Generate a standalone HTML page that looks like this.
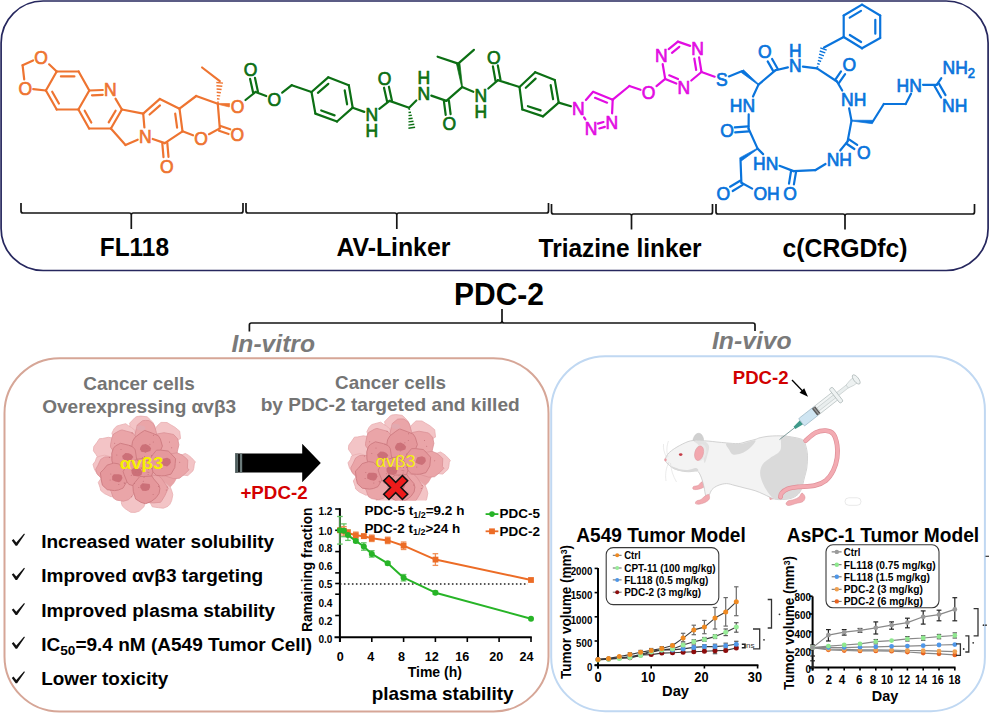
<!DOCTYPE html>
<html><head><meta charset="utf-8"><style>
html,body{margin:0;padding:0;background:#fff;width:1000px;height:713px;overflow:hidden}
svg{display:block}
text{font-family:"Liberation Sans", sans-serif}
</style></head><body>
<svg width="1000" height="713" viewBox="0 0 1000 713">
<rect x="1.1" y="1" width="987" height="269.5" rx="42" ry="42" fill="none" stroke="#26275e" stroke-width="1.7"/>
<rect x="4.5" y="358.2" width="544" height="353.3" rx="55" ry="55" fill="none" stroke="#d6a697" stroke-width="2"/>
<rect x="551.2" y="356.2" width="433.7" height="355" rx="54" ry="54" fill="none" stroke="#c0d8f2" stroke-width="2"/>
<path d="M21,203 L21,211 Q21,213 23,213 L129.3,213 Q131.3,213 131.3,215 L131.3,229 M131.3,215 Q131.3,213 133.3,213 L241,213 Q243,213 243,211 L243,203" fill="none" stroke="#151515" stroke-width="1.7"/>
<path d="M246,203 L246,211 Q246,213 248,213 L394.8,213 Q396.8,213 396.8,215 L396.8,229 M396.8,215 Q396.8,213 398.8,213 L546.5,213 Q548.5,213 548.5,211 L548.5,203" fill="none" stroke="#151515" stroke-width="1.7"/>
<path d="M551.5,204 L551.5,212 Q551.5,214 553.5,214 L629.5,214 Q631.5,214 631.5,216 L631.5,229.5 M631.5,216 Q631.5,214 633.5,214 L710.5,214 Q712.5,214 712.5,212 L712.5,204" fill="none" stroke="#151515" stroke-width="1.7"/>
<path d="M716,204 L716,212 Q716,214 718,214 L843,214 Q845,214 845,216 L845,229.5 M845,216 Q845,214 847,214 L972.5,214 Q974.5,214 974.5,212 L974.5,204" fill="none" stroke="#151515" stroke-width="1.7"/>
<text x="99.8" y="256.4" font-size="25.6" font-weight="bold" fill="#000" text-anchor="start" textLength="69.2" lengthAdjust="spacingAndGlyphs">FL118</text>
<text x="336.4" y="256.2" font-size="25.6" font-weight="bold" fill="#000" text-anchor="start" textLength="114" lengthAdjust="spacingAndGlyphs">AV-Linker</text>
<text x="538.6" y="257.4" font-size="25.6" font-weight="bold" fill="#000" text-anchor="start" textLength="163" lengthAdjust="spacingAndGlyphs">Triazine linker</text>
<text x="782.6" y="256.7" font-size="25.6" font-weight="bold" fill="#000" text-anchor="start" textLength="125" lengthAdjust="spacingAndGlyphs">c(CRGDfc)</text>
<text x="454" y="304.7" font-size="30.6" font-weight="bold" fill="#000" text-anchor="start" textLength="90" lengthAdjust="spacingAndGlyphs">PDC-2</text>
<path d="M249.4,331.5 L249.4,325 Q249.4,323 251.4,323 L500,323 Q502,323 502,321 L502,309 M502,321 Q502,323 504,323 L753,323 Q755,323 755,325 L755,331" fill="none" stroke="#151515" stroke-width="1.7"/>
<text x="231.5" y="351.5" font-size="24.5" font-weight="bold" fill="#7a7a7a" text-anchor="start" font-style="italic" textLength="83.5" lengthAdjust="spacingAndGlyphs">In-vitro</text>
<text x="712" y="348.9" font-size="24.5" font-weight="bold" fill="#7a7a7a" text-anchor="start" font-style="italic" textLength="79.6" lengthAdjust="spacingAndGlyphs">In-vivo</text>
<text x="139" y="390.4" font-size="18.6" font-weight="bold" fill="#747474" text-anchor="middle" textLength="111.4" lengthAdjust="spacingAndGlyphs">Cancer cells</text>
<text x="139.2" y="412.8" font-size="18.6" font-weight="bold" fill="#747474" text-anchor="middle" textLength="194" lengthAdjust="spacingAndGlyphs">Overexpressing αvβ3</text>
<text x="390.6" y="388.6" font-size="18.6" font-weight="bold" fill="#747474" text-anchor="middle" textLength="111" lengthAdjust="spacingAndGlyphs">Cancer cells</text>
<text x="390.2" y="411.4" font-size="18.6" font-weight="bold" fill="#747474" text-anchor="middle" textLength="259" lengthAdjust="spacingAndGlyphs">by PDC-2 targeted and killed</text>
<text x="240.4" y="498.6" font-size="18.6" font-weight="bold" fill="#d40000" text-anchor="start" textLength="67.2" lengthAdjust="spacingAndGlyphs">+PDC-2</text>
<path d="M235,453.4 L302.2,453.4 L302.2,443.8 L320.8,463 L302.2,482.2 L302.2,472.6 L235,472.6 Z" fill="#000"/>
<rect x="235" y="453.6" width="3.2" height="19" fill="#5f6e6e"/><rect x="236.3" y="453.6" width="0.8" height="19" fill="#4a5656"/><rect x="239.8" y="453.6" width="2.4" height="19" fill="#6b7b7b"/>
<path transform="translate(0,0.1)" d="M11.8,540.3 L13.5,538.9 L16.3,542.3 L24.1,533.5 L24.9,534.2 L17.1,545.6 L15.6,545.6 Z" fill="#111"/>
<text x="41.2" y="547.8" font-size="18.8" font-weight="bold" fill="#000" text-anchor="start" textLength="233" lengthAdjust="spacingAndGlyphs">Increased water solubility</text>
<path transform="translate(0,34.3)" d="M11.8,540.3 L13.5,538.9 L16.3,542.3 L24.1,533.5 L24.9,534.2 L17.1,545.6 L15.6,545.6 Z" fill="#111"/>
<text x="41.2" y="582" font-size="18.8" font-weight="bold" fill="#000" text-anchor="start" textLength="222" lengthAdjust="spacingAndGlyphs">Improved αvβ3 targeting</text>
<path transform="translate(0,69.5)" d="M11.8,540.3 L13.5,538.9 L16.3,542.3 L24.1,533.5 L24.9,534.2 L17.1,545.6 L15.6,545.6 Z" fill="#111"/>
<text x="41.2" y="617.2" font-size="18.8" font-weight="bold" fill="#000" text-anchor="start" textLength="234" lengthAdjust="spacingAndGlyphs">Improved plasma stability</text>
<path transform="translate(0,103.1)" d="M11.8,540.3 L13.5,538.9 L16.3,542.3 L24.1,533.5 L24.9,534.2 L17.1,545.6 L15.6,545.6 Z" fill="#111"/>
<text x="41.2" y="650.8" font-size="18.8" font-weight="bold" fill="#000" text-anchor="start" textLength="271" lengthAdjust="spacingAndGlyphs">IC<tspan font-size="13.5" dy="4">50</tspan><tspan dy="-4">=9.4 nM (A549 Tumor Cell)</tspan></text>
<path transform="translate(0,137.7)" d="M11.8,540.3 L13.5,538.9 L16.3,542.3 L24.1,533.5 L24.9,534.2 L17.1,545.6 L15.6,545.6 Z" fill="#111"/>
<text x="41.2" y="685.4" font-size="18.8" font-weight="bold" fill="#000" text-anchor="start" textLength="127" lengthAdjust="spacingAndGlyphs">Lower toxicity</text>
<g id="mol"><line x1="33.1" y1="60.5" x2="22.6" y2="65.3" stroke="#ee7431" stroke-width="2.2" stroke-linecap="round"/>
<line x1="22.6" y1="65.3" x2="24.2" y2="79.4" stroke="#ee7431" stroke-width="2.2" stroke-linecap="round"/>
<line x1="49.1" y1="64.3" x2="56.7" y2="71.5" stroke="#ee7431" stroke-width="2.2" stroke-linecap="round"/>
<line x1="33.2" y1="89.1" x2="45.9" y2="90.5" stroke="#ee7431" stroke-width="2.2" stroke-linecap="round"/>
<line x1="56.7" y1="71.5" x2="78.6" y2="71.5" stroke="#ee7431" stroke-width="2.2" stroke-linecap="round"/>
<line x1="60.9" y1="76.4" x2="74.4" y2="76.4" stroke="#ee7431" stroke-width="2.2" stroke-linecap="round"/>
<line x1="78.6" y1="71.5" x2="89.3" y2="90.5" stroke="#ee7431" stroke-width="2.2" stroke-linecap="round"/>
<line x1="89.3" y1="90.5" x2="78.4" y2="109.5" stroke="#ee7431" stroke-width="2.2" stroke-linecap="round"/>
<line x1="78.4" y1="109.5" x2="56.7" y2="109.5" stroke="#ee7431" stroke-width="2.2" stroke-linecap="round"/>
<line x1="56.7" y1="109.5" x2="45.9" y2="90.5" stroke="#ee7431" stroke-width="2.2" stroke-linecap="round"/>
<line x1="58.9" y1="103.5" x2="52.2" y2="91.7" stroke="#ee7431" stroke-width="2.2" stroke-linecap="round"/>
<line x1="45.9" y1="90.5" x2="56.7" y2="71.5" stroke="#ee7431" stroke-width="2.2" stroke-linecap="round"/>
<line x1="89.3" y1="90.5" x2="102.8" y2="90.0" stroke="#ee7431" stroke-width="2.2" stroke-linecap="round"/>
<line x1="92.0" y1="95.3" x2="102.7" y2="94.9" stroke="#ee7431" stroke-width="2.2" stroke-linecap="round"/>
<line x1="115.5" y1="98.6" x2="121.9" y2="109.5" stroke="#ee7431" stroke-width="2.2" stroke-linecap="round"/>
<line x1="121.9" y1="109.5" x2="110.9" y2="128.5" stroke="#ee7431" stroke-width="2.2" stroke-linecap="round"/>
<line x1="115.6" y1="110.7" x2="108.7" y2="122.4" stroke="#ee7431" stroke-width="2.2" stroke-linecap="round"/>
<line x1="110.9" y1="128.5" x2="89.1" y2="128.5" stroke="#ee7431" stroke-width="2.2" stroke-linecap="round"/>
<line x1="89.1" y1="128.5" x2="78.4" y2="109.5" stroke="#ee7431" stroke-width="2.2" stroke-linecap="round"/>
<line x1="91.3" y1="122.5" x2="84.7" y2="110.7" stroke="#ee7431" stroke-width="2.2" stroke-linecap="round"/>
<line x1="121.9" y1="109.5" x2="143.2" y2="113.6" stroke="#ee7431" stroke-width="2.2" stroke-linecap="round"/>
<line x1="143.2" y1="113.6" x2="144.4" y2="127.5" stroke="#ee7431" stroke-width="2.2" stroke-linecap="round"/>
<line x1="137.7" y1="139.7" x2="125.5" y2="145.0" stroke="#ee7431" stroke-width="2.2" stroke-linecap="round"/>
<line x1="125.5" y1="145.0" x2="110.9" y2="128.5" stroke="#ee7431" stroke-width="2.2" stroke-linecap="round"/>
<line x1="143.2" y1="113.6" x2="159.9" y2="98.9" stroke="#ee7431" stroke-width="2.2" stroke-linecap="round"/>
<line x1="149.6" y1="114.5" x2="160.0" y2="105.4" stroke="#ee7431" stroke-width="2.2" stroke-linecap="round"/>
<line x1="159.9" y1="98.9" x2="179.5" y2="108.7" stroke="#ee7431" stroke-width="2.2" stroke-linecap="round"/>
<line x1="179.5" y1="108.7" x2="182.5" y2="131.3" stroke="#ee7431" stroke-width="2.2" stroke-linecap="round"/>
<line x1="175.2" y1="113.6" x2="177.1" y2="127.7" stroke="#ee7431" stroke-width="2.2" stroke-linecap="round"/>
<line x1="182.5" y1="131.3" x2="164.8" y2="143.1" stroke="#ee7431" stroke-width="2.2" stroke-linecap="round"/>
<line x1="164.8" y1="143.1" x2="152.7" y2="139.0" stroke="#ee7431" stroke-width="2.2" stroke-linecap="round"/>
<line x1="162.3" y1="143.3" x2="163.5" y2="157.2" stroke="#ee7431" stroke-width="2.2" stroke-linecap="round"/>
<line x1="167.3" y1="142.9" x2="168.5" y2="156.8" stroke="#ee7431" stroke-width="2.2" stroke-linecap="round"/>
<line x1="179.5" y1="108.7" x2="196.2" y2="96.0" stroke="#ee7431" stroke-width="2.2" stroke-linecap="round"/>
<line x1="196.2" y1="96.0" x2="217.8" y2="103.8" stroke="#ee7431" stroke-width="2.2" stroke-linecap="round"/>
<line x1="217.8" y1="103.8" x2="219.8" y2="128.4" stroke="#ee7431" stroke-width="2.2" stroke-linecap="round"/>
<line x1="219.8" y1="128.4" x2="209.0" y2="134.2" stroke="#ee7431" stroke-width="2.2" stroke-linecap="round"/>
<line x1="193.0" y1="135.3" x2="182.5" y2="131.3" stroke="#ee7431" stroke-width="2.2" stroke-linecap="round"/>
<line x1="219.0" y1="130.8" x2="228.6" y2="134.0" stroke="#ee7431" stroke-width="2.2" stroke-linecap="round"/>
<line x1="220.6" y1="126.0" x2="230.2" y2="129.3" stroke="#ee7431" stroke-width="2.2" stroke-linecap="round"/>
<line x1="218.8" y1="102.3" x2="217.1" y2="102.1" stroke="#ee7431" stroke-width="1.4"/>
<line x1="219.5" y1="99.1" x2="217.0" y2="98.8" stroke="#ee7431" stroke-width="1.4"/>
<line x1="220.2" y1="95.9" x2="216.8" y2="95.6" stroke="#ee7431" stroke-width="1.4"/>
<line x1="220.9" y1="92.7" x2="216.7" y2="92.3" stroke="#ee7431" stroke-width="1.4"/>
<line x1="221.6" y1="89.5" x2="216.6" y2="89.0" stroke="#ee7431" stroke-width="1.4"/>
<line x1="222.3" y1="86.3" x2="216.4" y2="85.8" stroke="#ee7431" stroke-width="1.4"/>
<line x1="223.0" y1="83.1" x2="216.3" y2="82.5" stroke="#ee7431" stroke-width="1.4"/>
<line x1="219.8" y1="81.2" x2="202.1" y2="67.5" stroke="#ee7431" stroke-width="2.2" stroke-linecap="round"/>
<path d="M217.7,104.2 L229.3,107.0 L229.7,103.6 L217.9,103.4 Z" fill="#ee7431" stroke="#ee7431" stroke-width="0.7" stroke-linejoin="round"/>
<line x1="245.5" y1="100.0" x2="255.5" y2="92.0" stroke="#0c6f14" stroke-width="2.2" stroke-linecap="round"/>
<line x1="257.9" y1="91.5" x2="255.0" y2="77.9" stroke="#0c6f14" stroke-width="2.2" stroke-linecap="round"/>
<line x1="253.1" y1="92.5" x2="250.1" y2="78.9" stroke="#0c6f14" stroke-width="2.2" stroke-linecap="round"/>
<line x1="255.5" y1="92.0" x2="266.2" y2="96.0" stroke="#0c6f14" stroke-width="2.2" stroke-linecap="round"/>
<line x1="282.2" y1="92.7" x2="291.8" y2="85.2" stroke="#0c6f14" stroke-width="2.2" stroke-linecap="round"/>
<line x1="291.8" y1="85.2" x2="311.5" y2="92.0" stroke="#0c6f14" stroke-width="2.2" stroke-linecap="round"/>
<line x1="311.5" y1="92.0" x2="328.2" y2="77.3" stroke="#0c6f14" stroke-width="2.2" stroke-linecap="round"/>
<line x1="317.9" y1="92.9" x2="328.3" y2="83.8" stroke="#0c6f14" stroke-width="2.2" stroke-linecap="round"/>
<line x1="328.2" y1="77.3" x2="348.8" y2="85.2" stroke="#0c6f14" stroke-width="2.2" stroke-linecap="round"/>
<line x1="348.8" y1="85.2" x2="352.7" y2="107.7" stroke="#0c6f14" stroke-width="2.2" stroke-linecap="round"/>
<line x1="344.7" y1="90.3" x2="347.1" y2="104.3" stroke="#0c6f14" stroke-width="2.2" stroke-linecap="round"/>
<line x1="352.7" y1="107.7" x2="337.0" y2="121.5" stroke="#0c6f14" stroke-width="2.2" stroke-linecap="round"/>
<line x1="337.0" y1="121.5" x2="315.4" y2="113.6" stroke="#0c6f14" stroke-width="2.2" stroke-linecap="round"/>
<line x1="334.6" y1="115.4" x2="321.2" y2="110.5" stroke="#0c6f14" stroke-width="2.2" stroke-linecap="round"/>
<line x1="315.4" y1="113.6" x2="311.5" y2="92.0" stroke="#0c6f14" stroke-width="2.2" stroke-linecap="round"/>
<line x1="352.7" y1="107.7" x2="364.3" y2="111.9" stroke="#0c6f14" stroke-width="2.2" stroke-linecap="round"/>
<line x1="379.3" y1="108.8" x2="389.5" y2="100.9" stroke="#0c6f14" stroke-width="2.2" stroke-linecap="round"/>
<line x1="391.9" y1="100.4" x2="388.9" y2="86.7" stroke="#0c6f14" stroke-width="2.2" stroke-linecap="round"/>
<line x1="387.1" y1="101.4" x2="384.0" y2="87.7" stroke="#0c6f14" stroke-width="2.2" stroke-linecap="round"/>
<line x1="389.5" y1="100.9" x2="409.1" y2="107.7" stroke="#0c6f14" stroke-width="2.2" stroke-linecap="round"/>
<line x1="408.5" y1="109.4" x2="410.1" y2="109.1" stroke="#0c6f14" stroke-width="1.4"/>
<line x1="408.5" y1="112.5" x2="411.0" y2="112.2" stroke="#0c6f14" stroke-width="1.4"/>
<line x1="408.5" y1="115.6" x2="411.8" y2="115.2" stroke="#0c6f14" stroke-width="1.4"/>
<line x1="408.5" y1="118.8" x2="412.6" y2="118.2" stroke="#0c6f14" stroke-width="1.4"/>
<line x1="408.5" y1="121.9" x2="413.5" y2="121.2" stroke="#0c6f14" stroke-width="1.4"/>
<line x1="408.4" y1="125.1" x2="414.3" y2="124.3" stroke="#0c6f14" stroke-width="1.4"/>
<line x1="408.4" y1="128.2" x2="415.1" y2="127.3" stroke="#0c6f14" stroke-width="1.4"/>
<line x1="409.1" y1="107.7" x2="416.3" y2="100.5" stroke="#0c6f14" stroke-width="2.2" stroke-linecap="round"/>
<line x1="431.3" y1="95.6" x2="446.4" y2="100.9" stroke="#0c6f14" stroke-width="2.2" stroke-linecap="round"/>
<line x1="443.9" y1="101.2" x2="445.7" y2="114.8" stroke="#0c6f14" stroke-width="2.2" stroke-linecap="round"/>
<line x1="448.9" y1="100.6" x2="450.6" y2="114.2" stroke="#0c6f14" stroke-width="2.2" stroke-linecap="round"/>
<line x1="446.4" y1="100.9" x2="462.1" y2="87.1" stroke="#0c6f14" stroke-width="2.2" stroke-linecap="round"/>
<path d="M462.5,87.0 L459.9,63.3 L456.5,63.9 L461.7,87.2 Z" fill="#0c6f14" stroke="#0c6f14" stroke-width="0.7" stroke-linejoin="round"/>
<line x1="458.2" y1="63.6" x2="437.6" y2="56.7" stroke="#0c6f14" stroke-width="2.2" stroke-linecap="round"/>
<line x1="458.2" y1="63.6" x2="473.9" y2="49.8" stroke="#0c6f14" stroke-width="2.2" stroke-linecap="round"/>
<line x1="462.1" y1="87.1" x2="473.3" y2="91.8" stroke="#0c6f14" stroke-width="2.2" stroke-linecap="round"/>
<line x1="488.3" y1="88.5" x2="498.0" y2="80.2" stroke="#0c6f14" stroke-width="2.2" stroke-linecap="round"/>
<line x1="500.5" y1="79.7" x2="497.8" y2="65.4" stroke="#0c6f14" stroke-width="2.2" stroke-linecap="round"/>
<line x1="495.5" y1="80.7" x2="492.9" y2="66.4" stroke="#0c6f14" stroke-width="2.2" stroke-linecap="round"/>
<line x1="498.0" y1="80.2" x2="519.5" y2="87.0" stroke="#0c6f14" stroke-width="2.2" stroke-linecap="round"/>
<line x1="519.5" y1="87.0" x2="535.2" y2="72.2" stroke="#0c6f14" stroke-width="2.2" stroke-linecap="round"/>
<line x1="525.8" y1="87.8" x2="535.6" y2="78.6" stroke="#0c6f14" stroke-width="2.2" stroke-linecap="round"/>
<line x1="535.2" y1="72.2" x2="554.8" y2="80.1" stroke="#0c6f14" stroke-width="2.2" stroke-linecap="round"/>
<line x1="554.8" y1="80.1" x2="558.7" y2="102.6" stroke="#0c6f14" stroke-width="2.2" stroke-linecap="round"/>
<line x1="550.7" y1="85.2" x2="553.1" y2="99.2" stroke="#0c6f14" stroke-width="2.2" stroke-linecap="round"/>
<line x1="558.7" y1="102.6" x2="543.0" y2="116.4" stroke="#0c6f14" stroke-width="2.2" stroke-linecap="round"/>
<line x1="543.0" y1="116.4" x2="522.4" y2="109.5" stroke="#0c6f14" stroke-width="2.2" stroke-linecap="round"/>
<line x1="540.6" y1="110.4" x2="527.9" y2="106.2" stroke="#0c6f14" stroke-width="2.2" stroke-linecap="round"/>
<line x1="522.4" y1="109.5" x2="519.5" y2="87.0" stroke="#0c6f14" stroke-width="2.2" stroke-linecap="round"/>
<line x1="558.7" y1="102.6" x2="570.9" y2="106.3" stroke="#0c6f14" stroke-width="2.2" stroke-linecap="round"/>
<line x1="585.9" y1="100.0" x2="593.1" y2="91.8" stroke="#e20ce2" stroke-width="2.2" stroke-linecap="round"/>
<line x1="593.1" y1="91.8" x2="612.7" y2="99.7" stroke="#e20ce2" stroke-width="2.2" stroke-linecap="round"/>
<line x1="595.0" y1="97.8" x2="607.1" y2="102.7" stroke="#e20ce2" stroke-width="2.2" stroke-linecap="round"/>
<line x1="612.7" y1="99.7" x2="612.1" y2="113.4" stroke="#e20ce2" stroke-width="2.2" stroke-linecap="round"/>
<line x1="603.5" y1="122.0" x2="597.9" y2="123.6" stroke="#e20ce2" stroke-width="2.2" stroke-linecap="round"/>
<line x1="604.9" y1="126.9" x2="599.3" y2="128.5" stroke="#e20ce2" stroke-width="2.2" stroke-linecap="round"/>
<line x1="585.4" y1="119.3" x2="584.1" y2="117.4" stroke="#e20ce2" stroke-width="2.2" stroke-linecap="round"/>
<line x1="612.7" y1="99.7" x2="629.4" y2="86.0" stroke="#e20ce2" stroke-width="2.2" stroke-linecap="round"/>
<line x1="629.4" y1="86.0" x2="640.5" y2="89.8" stroke="#e20ce2" stroke-width="2.2" stroke-linecap="round"/>
<line x1="656.5" y1="86.1" x2="665.2" y2="78.9" stroke="#e20ce2" stroke-width="2.2" stroke-linecap="round"/>
<line x1="665.2" y1="78.9" x2="662.7" y2="64.2" stroke="#e20ce2" stroke-width="2.2" stroke-linecap="round"/>
<line x1="668.7" y1="49.1" x2="677.9" y2="41.6" stroke="#e20ce2" stroke-width="2.2" stroke-linecap="round"/>
<line x1="672.0" y1="52.8" x2="679.3" y2="46.8" stroke="#e20ce2" stroke-width="2.2" stroke-linecap="round"/>
<line x1="677.9" y1="41.6" x2="690.1" y2="45.9" stroke="#e20ce2" stroke-width="2.2" stroke-linecap="round"/>
<line x1="699.1" y1="57.4" x2="701.5" y2="72.0" stroke="#e20ce2" stroke-width="2.2" stroke-linecap="round"/>
<line x1="694.3" y1="58.5" x2="696.2" y2="70.0" stroke="#e20ce2" stroke-width="2.2" stroke-linecap="round"/>
<line x1="701.5" y1="72.0" x2="691.3" y2="80.5" stroke="#e20ce2" stroke-width="2.2" stroke-linecap="round"/>
<line x1="676.3" y1="83.6" x2="665.2" y2="78.9" stroke="#e20ce2" stroke-width="2.2" stroke-linecap="round"/>
<line x1="678.0" y1="79.0" x2="669.2" y2="75.3" stroke="#e20ce2" stroke-width="2.2" stroke-linecap="round"/>
<line x1="701.5" y1="72.0" x2="714.7" y2="76.7" stroke="#e20ce2" stroke-width="2.2" stroke-linecap="round"/>
<line x1="728.9" y1="76.4" x2="742.3" y2="71.1" stroke="#0a74dc" stroke-width="2.2" stroke-linecap="round"/>
<path d="M758.8,84.3 L743.4,69.8 L741.2,72.4 L758.2,84.9 Z" fill="#0a74dc" stroke="#0a74dc" stroke-width="0.7" stroke-linejoin="round"/>
<line x1="758.5" y1="84.6" x2="775.6" y2="70.2" stroke="#0a74dc" stroke-width="2.2" stroke-linecap="round"/>
<line x1="777.8" y1="69.0" x2="772.1" y2="59.0" stroke="#0a74dc" stroke-width="2.2" stroke-linecap="round"/>
<line x1="773.4" y1="71.4" x2="767.7" y2="61.4" stroke="#0a74dc" stroke-width="2.2" stroke-linecap="round"/>
<line x1="775.6" y1="70.2" x2="787.9" y2="67.4" stroke="#0a74dc" stroke-width="2.2" stroke-linecap="round"/>
<line x1="802.9" y1="66.6" x2="817.0" y2="68.4" stroke="#0a74dc" stroke-width="2.2" stroke-linecap="round"/>
<line x1="818.3" y1="67.2" x2="816.7" y2="66.6" stroke="#0a74dc" stroke-width="1.4"/>
<line x1="819.7" y1="64.3" x2="817.3" y2="63.5" stroke="#0a74dc" stroke-width="1.4"/>
<line x1="821.1" y1="61.5" x2="817.9" y2="60.4" stroke="#0a74dc" stroke-width="1.4"/>
<line x1="822.5" y1="58.6" x2="818.5" y2="57.3" stroke="#0a74dc" stroke-width="1.4"/>
<line x1="823.9" y1="55.8" x2="819.1" y2="54.2" stroke="#0a74dc" stroke-width="1.4"/>
<line x1="825.3" y1="52.9" x2="819.7" y2="51.0" stroke="#0a74dc" stroke-width="1.4"/>
<line x1="826.7" y1="50.1" x2="820.3" y2="47.9" stroke="#0a74dc" stroke-width="1.4"/>
<line x1="824.0" y1="47.5" x2="843.7" y2="37.0" stroke="#0a74dc" stroke-width="2.2" stroke-linecap="round"/>
<line x1="843.7" y1="37.0" x2="843.7" y2="15.5" stroke="#0a74dc" stroke-width="2.2" stroke-linecap="round"/>
<line x1="843.7" y1="15.5" x2="862.0" y2="4.6" stroke="#0a74dc" stroke-width="2.2" stroke-linecap="round"/>
<line x1="849.7" y1="17.6" x2="861.0" y2="10.9" stroke="#0a74dc" stroke-width="2.2" stroke-linecap="round"/>
<line x1="862.0" y1="4.6" x2="880.2" y2="15.5" stroke="#0a74dc" stroke-width="2.2" stroke-linecap="round"/>
<line x1="880.2" y1="15.5" x2="880.2" y2="38.0" stroke="#0a74dc" stroke-width="2.2" stroke-linecap="round"/>
<line x1="875.3" y1="19.8" x2="875.3" y2="33.7" stroke="#0a74dc" stroke-width="2.2" stroke-linecap="round"/>
<line x1="880.2" y1="38.0" x2="862.0" y2="48.3" stroke="#0a74dc" stroke-width="2.2" stroke-linecap="round"/>
<line x1="862.0" y1="48.3" x2="843.7" y2="37.0" stroke="#0a74dc" stroke-width="2.2" stroke-linecap="round"/>
<line x1="861.1" y1="42.0" x2="849.8" y2="35.0" stroke="#0a74dc" stroke-width="2.2" stroke-linecap="round"/>
<line x1="817.0" y1="68.4" x2="837.0" y2="81.5" stroke="#0a74dc" stroke-width="2.2" stroke-linecap="round"/>
<line x1="839.0" y1="82.9" x2="845.1" y2="74.2" stroke="#0a74dc" stroke-width="2.2" stroke-linecap="round"/>
<line x1="835.0" y1="80.1" x2="841.0" y2="71.4" stroke="#0a74dc" stroke-width="2.2" stroke-linecap="round"/>
<line x1="837.0" y1="81.5" x2="842.2" y2="90.5" stroke="#0a74dc" stroke-width="2.2" stroke-linecap="round"/>
<line x1="849.1" y1="108.3" x2="851.5" y2="120.6" stroke="#0a74dc" stroke-width="2.2" stroke-linecap="round"/>
<path d="M851.5,121.0 L872.4,123.7 L872.6,120.3 L851.5,120.2 Z" fill="#0a74dc" stroke="#0a74dc" stroke-width="0.7" stroke-linejoin="round"/>
<line x1="872.5" y1="122.0" x2="883.8" y2="104.0" stroke="#0a74dc" stroke-width="2.2" stroke-linecap="round"/>
<line x1="883.8" y1="104.0" x2="905.7" y2="104.0" stroke="#0a74dc" stroke-width="2.2" stroke-linecap="round"/>
<line x1="905.7" y1="104.0" x2="911.0" y2="93.7" stroke="#0a74dc" stroke-width="2.2" stroke-linecap="round"/>
<line x1="923.0" y1="84.8" x2="936.7" y2="84.8" stroke="#0a74dc" stroke-width="2.2" stroke-linecap="round"/>
<line x1="936.7" y1="84.8" x2="941.3" y2="78.1" stroke="#0a74dc" stroke-width="2.2" stroke-linecap="round"/>
<line x1="934.5" y1="86.0" x2="941.1" y2="97.5" stroke="#0a74dc" stroke-width="2.2" stroke-linecap="round"/>
<line x1="938.9" y1="83.6" x2="945.5" y2="95.1" stroke="#0a74dc" stroke-width="2.2" stroke-linecap="round"/>
<line x1="851.5" y1="120.6" x2="847.6" y2="141.4" stroke="#0a74dc" stroke-width="2.2" stroke-linecap="round"/>
<line x1="846.2" y1="143.5" x2="854.4" y2="149.0" stroke="#0a74dc" stroke-width="2.2" stroke-linecap="round"/>
<line x1="849.0" y1="139.3" x2="857.2" y2="144.8" stroke="#0a74dc" stroke-width="2.2" stroke-linecap="round"/>
<line x1="847.6" y1="141.4" x2="840.2" y2="150.5" stroke="#0a74dc" stroke-width="2.2" stroke-linecap="round"/>
<line x1="825.5" y1="164.0" x2="815.2" y2="170.2" stroke="#0a74dc" stroke-width="2.2" stroke-linecap="round"/>
<line x1="815.2" y1="170.2" x2="793.6" y2="171.1" stroke="#0a74dc" stroke-width="2.2" stroke-linecap="round"/>
<line x1="791.1" y1="170.7" x2="789.0" y2="183.6" stroke="#0a74dc" stroke-width="2.2" stroke-linecap="round"/>
<line x1="796.1" y1="171.5" x2="793.9" y2="184.4" stroke="#0a74dc" stroke-width="2.2" stroke-linecap="round"/>
<line x1="793.6" y1="171.1" x2="779.5" y2="165.8" stroke="#0a74dc" stroke-width="2.2" stroke-linecap="round"/>
<line x1="763.1" y1="154.1" x2="757.6" y2="148.6" stroke="#0a74dc" stroke-width="2.2" stroke-linecap="round"/>
<path d="M757.4,148.2 L739.6,157.9 L741.4,160.9 L757.8,149.0 Z" fill="#0a74dc" stroke="#0a74dc" stroke-width="0.7" stroke-linejoin="round"/>
<line x1="740.5" y1="159.4" x2="741.4" y2="182.8" stroke="#0a74dc" stroke-width="2.2" stroke-linecap="round"/>
<line x1="740.1" y1="180.7" x2="730.1" y2="186.7" stroke="#0a74dc" stroke-width="2.2" stroke-linecap="round"/>
<line x1="742.7" y1="184.9" x2="732.7" y2="191.0" stroke="#0a74dc" stroke-width="2.2" stroke-linecap="round"/>
<line x1="741.4" y1="182.8" x2="752.2" y2="188.6" stroke="#0a74dc" stroke-width="2.2" stroke-linecap="round"/>
<line x1="757.6" y1="148.6" x2="748.6" y2="128.8" stroke="#0a74dc" stroke-width="2.2" stroke-linecap="round"/>
<line x1="748.4" y1="126.3" x2="734.8" y2="127.4" stroke="#0a74dc" stroke-width="2.2" stroke-linecap="round"/>
<line x1="748.8" y1="131.3" x2="735.2" y2="132.4" stroke="#0a74dc" stroke-width="2.2" stroke-linecap="round"/>
<line x1="748.6" y1="128.8" x2="748.7" y2="114.3" stroke="#0a74dc" stroke-width="2.2" stroke-linecap="round"/>
<line x1="753.0" y1="96.5" x2="758.5" y2="84.6" stroke="#0a74dc" stroke-width="2.2" stroke-linecap="round"/>
<text transform="translate(41.1,63.5) scale(0.91,1)" font-size="19.240000000000002" fill="#ee7431" text-anchor="middle" stroke="#ee7431" stroke-width="0.75">O</text>
<text transform="translate(25.2,95.0) scale(0.91,1)" font-size="19.240000000000002" fill="#ee7431" text-anchor="middle" stroke="#ee7431" stroke-width="0.75">O</text>
<text transform="translate(110.3,96.4) scale(0.91,1)" font-size="19.240000000000002" fill="#ee7431" text-anchor="middle" stroke="#ee7431" stroke-width="0.75">N</text>
<text transform="translate(145.2,143.1) scale(0.91,1)" font-size="19.240000000000002" fill="#ee7431" text-anchor="middle" stroke="#ee7431" stroke-width="0.75">N</text>
<text transform="translate(166.8,172.6) scale(0.91,1)" font-size="19.240000000000002" fill="#ee7431" text-anchor="middle" stroke="#ee7431" stroke-width="0.75">O</text>
<text transform="translate(201.0,145.1) scale(0.91,1)" font-size="19.240000000000002" fill="#ee7431" text-anchor="middle" stroke="#ee7431" stroke-width="0.75">O</text>
<text transform="translate(237.4,141.1) scale(0.91,1)" font-size="19.240000000000002" fill="#ee7431" text-anchor="middle" stroke="#ee7431" stroke-width="0.75">O</text>
<text transform="translate(237.5,113.0) scale(0.91,1)" font-size="19.240000000000002" fill="#ee7431" text-anchor="middle" stroke="#ee7431" stroke-width="0.75">O</text>
<text transform="translate(250.6,76.2) scale(0.91,1)" font-size="19.240000000000002" fill="#0c6f14" text-anchor="middle" stroke="#0c6f14" stroke-width="0.75">O</text>
<text transform="translate(274.2,105.6) scale(0.91,1)" font-size="19.240000000000002" fill="#0c6f14" text-anchor="middle" stroke="#0c6f14" stroke-width="0.75">O</text>
<text transform="translate(371.8,121.3) scale(0.91,1)" font-size="19.240000000000002" fill="#0c6f14" text-anchor="middle" stroke="#0c6f14" stroke-width="0.75">N</text>
<text transform="translate(371.8,137.2) scale(0.91,1)" font-size="19.240000000000002" fill="#0c6f14" text-anchor="middle" stroke="#0c6f14" stroke-width="0.75">H</text>
<text transform="translate(384.5,85.0) scale(0.91,1)" font-size="19.240000000000002" fill="#0c6f14" text-anchor="middle" stroke="#0c6f14" stroke-width="0.75">O</text>
<text transform="translate(423.8,99.7) scale(0.91,1)" font-size="19.240000000000002" fill="#0c6f14" text-anchor="middle" stroke="#0c6f14" stroke-width="0.75">N</text>
<text transform="translate(423.8,83.8) scale(0.91,1)" font-size="19.240000000000002" fill="#0c6f14" text-anchor="middle" stroke="#0c6f14" stroke-width="0.75">H</text>
<text transform="translate(449.3,130.1) scale(0.91,1)" font-size="19.240000000000002" fill="#0c6f14" text-anchor="middle" stroke="#0c6f14" stroke-width="0.75">O</text>
<text transform="translate(480.8,101.7) scale(0.91,1)" font-size="19.240000000000002" fill="#0c6f14" text-anchor="middle" stroke="#0c6f14" stroke-width="0.75">N</text>
<text transform="translate(480.8,117.6) scale(0.91,1)" font-size="19.240000000000002" fill="#0c6f14" text-anchor="middle" stroke="#0c6f14" stroke-width="0.75">H</text>
<text transform="translate(493.7,63.7) scale(0.91,1)" font-size="19.240000000000002" fill="#0c6f14" text-anchor="middle" stroke="#0c6f14" stroke-width="0.75">O</text>
<text transform="translate(578.4,115.2) scale(0.91,1)" font-size="19.240000000000002" fill="#e20ce2" text-anchor="middle" stroke="#e20ce2" stroke-width="0.75">N</text>
<text transform="translate(611.7,129.0) scale(0.91,1)" font-size="19.240000000000002" fill="#e20ce2" text-anchor="middle" stroke="#e20ce2" stroke-width="0.75">N</text>
<text transform="translate(591.1,134.9) scale(0.91,1)" font-size="19.240000000000002" fill="#e20ce2" text-anchor="middle" stroke="#e20ce2" stroke-width="0.75">N</text>
<text transform="translate(648.5,99.3) scale(0.91,1)" font-size="19.240000000000002" fill="#e20ce2" text-anchor="middle" stroke="#e20ce2" stroke-width="0.75">O</text>
<text transform="translate(661.2,62.0) scale(0.91,1)" font-size="19.240000000000002" fill="#e20ce2" text-anchor="middle" stroke="#e20ce2" stroke-width="0.75">N</text>
<text transform="translate(697.6,55.2) scale(0.91,1)" font-size="19.240000000000002" fill="#e20ce2" text-anchor="middle" stroke="#e20ce2" stroke-width="0.75">N</text>
<text transform="translate(683.8,93.5) scale(0.91,1)" font-size="19.240000000000002" fill="#e20ce2" text-anchor="middle" stroke="#e20ce2" stroke-width="0.75">N</text>
<text transform="translate(721.8,85.9) scale(0.91,1)" font-size="19.240000000000002" fill="#0a74dc" text-anchor="middle" stroke="#0a74dc" stroke-width="0.75">S</text>
<text transform="translate(764.8,58.0) scale(0.91,1)" font-size="19.240000000000002" fill="#0a74dc" text-anchor="middle" stroke="#0a74dc" stroke-width="0.75">O</text>
<text transform="translate(795.4,72.4) scale(0.91,1)" font-size="19.240000000000002" fill="#0a74dc" text-anchor="middle" stroke="#0a74dc" stroke-width="0.75">N</text>
<text transform="translate(795.4,56.5) scale(0.91,1)" font-size="19.240000000000002" fill="#0a74dc" text-anchor="middle" stroke="#0a74dc" stroke-width="0.75">H</text>
<text transform="translate(849.3,70.6) scale(0.91,1)" font-size="19.240000000000002" fill="#0a74dc" text-anchor="middle" stroke="#0a74dc" stroke-width="0.75">O</text>
<text transform="translate(841.1,106.1) scale(0.91,1)" font-size="19.240000000000002" fill="#0a74dc" text-anchor="start" stroke="#0a74dc" stroke-width="0.75">NH</text>
<text transform="translate(921.8,91.5) scale(0.91,1)" font-size="19.240000000000002" fill="#0a74dc" text-anchor="end" stroke="#0a74dc" stroke-width="0.75">HN</text>
<text transform="translate(942.5,73.9) scale(0.91,1)" font-size="19.240000000000002" fill="#0a74dc" text-anchor="start" stroke="#0a74dc" stroke-width="0.75">NH</text>
<text transform="translate(967.8,78.4) scale(0.91,1)" font-size="14.2376" fill="#0a74dc" text-anchor="start" stroke="#0a74dc" stroke-width="0.75">2</text>
<text transform="translate(942.1,111.9) scale(0.91,1)" font-size="19.240000000000002" fill="#0a74dc" text-anchor="start" stroke="#0a74dc" stroke-width="0.75">NH</text>
<text transform="translate(863.8,158.9) scale(0.91,1)" font-size="19.240000000000002" fill="#0a74dc" text-anchor="middle" stroke="#0a74dc" stroke-width="0.75">O</text>
<text transform="translate(826.7,166.1) scale(0.91,1)" font-size="19.240000000000002" fill="#0a74dc" text-anchor="start" stroke="#0a74dc" stroke-width="0.75">NH</text>
<text transform="translate(790.0,199.6) scale(0.91,1)" font-size="19.240000000000002" fill="#0a74dc" text-anchor="middle" stroke="#0a74dc" stroke-width="0.75">O</text>
<text transform="translate(778.3,169.7) scale(0.91,1)" font-size="19.240000000000002" fill="#0a74dc" text-anchor="end" stroke="#0a74dc" stroke-width="0.75">HN</text>
<text transform="translate(723.4,200.3) scale(0.91,1)" font-size="19.240000000000002" fill="#0a74dc" text-anchor="middle" stroke="#0a74dc" stroke-width="0.75">O</text>
<text transform="translate(753.4,199.6) scale(0.91,1)" font-size="19.240000000000002" fill="#0a74dc" text-anchor="start" stroke="#0a74dc" stroke-width="0.75">OH</text>
<text transform="translate(727.0,137.3) scale(0.91,1)" font-size="19.240000000000002" fill="#0a74dc" text-anchor="middle" stroke="#0a74dc" stroke-width="0.75">O</text>
<text transform="translate(755.1,112.1) scale(0.91,1)" font-size="19.240000000000002" fill="#0a74dc" text-anchor="end" stroke="#0a74dc" stroke-width="0.75">HN</text></g>
<g id="charts"><line x1="339.9" y1="508.2" x2="339.9" y2="642.0" stroke="#000" stroke-width="2"/>
<line x1="334.5" y1="637.2" x2="531.8" y2="637.2" stroke="#000" stroke-width="2"/>
<line x1="335.2" y1="509.0" x2="339.9" y2="509.0" stroke="#000" stroke-width="1.6"/>
<line x1="335.2" y1="530.3" x2="339.9" y2="530.3" stroke="#000" stroke-width="1.6"/>
<line x1="335.2" y1="551.6" x2="339.9" y2="551.6" stroke="#000" stroke-width="1.6"/>
<line x1="335.2" y1="572.9" x2="339.9" y2="572.9" stroke="#000" stroke-width="1.6"/>
<line x1="335.2" y1="583.5" x2="339.9" y2="583.5" stroke="#000" stroke-width="1.6"/>
<line x1="335.2" y1="594.2" x2="339.9" y2="594.2" stroke="#000" stroke-width="1.6"/>
<line x1="335.2" y1="615.5" x2="339.9" y2="615.5" stroke="#000" stroke-width="1.6"/>
<line x1="339.9" y1="637.2" x2="339.9" y2="642.0" stroke="#000" stroke-width="1.6"/>
<text x="340.2" y="661.0" font-size="12.6" font-weight="bold" fill="#000" text-anchor="middle">0</text>
<line x1="371.8" y1="637.2" x2="371.8" y2="642.0" stroke="#000" stroke-width="1.6"/>
<text x="370.8" y="661.0" font-size="12.6" font-weight="bold" fill="#000" text-anchor="middle">4</text>
<line x1="403.6" y1="637.2" x2="403.6" y2="642.0" stroke="#000" stroke-width="1.6"/>
<text x="401.4" y="661.0" font-size="12.6" font-weight="bold" fill="#000" text-anchor="middle">8</text>
<line x1="435.4" y1="637.2" x2="435.4" y2="642.0" stroke="#000" stroke-width="1.6"/>
<text x="431.8" y="661.0" font-size="12.6" font-weight="bold" fill="#000" text-anchor="middle">12</text>
<line x1="467.3" y1="637.2" x2="467.3" y2="642.0" stroke="#000" stroke-width="1.6"/>
<text x="462.3" y="661.0" font-size="12.6" font-weight="bold" fill="#000" text-anchor="middle">16</text>
<line x1="499.1" y1="637.2" x2="499.1" y2="642.0" stroke="#000" stroke-width="1.6"/>
<text x="496.2" y="661.0" font-size="12.6" font-weight="bold" fill="#000" text-anchor="middle">20</text>
<line x1="531.0" y1="637.2" x2="531.0" y2="642.0" stroke="#000" stroke-width="1.6"/>
<text x="526.6" y="661.0" font-size="12.6" font-weight="bold" fill="#000" text-anchor="middle">24</text>
<text x="332.4" y="515.3" font-size="10.6" font-weight="bold" fill="#000" text-anchor="end" textLength="14" lengthAdjust="spacingAndGlyphs">1.2</text>
<text x="332.4" y="534.6" font-size="10.6" font-weight="bold" fill="#000" text-anchor="end" textLength="14" lengthAdjust="spacingAndGlyphs">1.0</text>
<text x="332.4" y="552.2" font-size="10.6" font-weight="bold" fill="#000" text-anchor="end" textLength="14" lengthAdjust="spacingAndGlyphs">0.8</text>
<text x="332.4" y="570.2" font-size="10.6" font-weight="bold" fill="#000" text-anchor="end" textLength="14" lengthAdjust="spacingAndGlyphs">0.6</text>
<text x="332.4" y="587.6" font-size="10.6" font-weight="bold" fill="#000" text-anchor="end" textLength="14" lengthAdjust="spacingAndGlyphs">0.5</text>
<text x="332.4" y="607.0" font-size="10.6" font-weight="bold" fill="#000" text-anchor="end" textLength="14" lengthAdjust="spacingAndGlyphs">0.4</text>
<text x="332.4" y="624.6" font-size="10.6" font-weight="bold" fill="#000" text-anchor="end" textLength="14" lengthAdjust="spacingAndGlyphs">0.2</text>
<text x="332.4" y="643.4" font-size="10.6" font-weight="bold" fill="#000" text-anchor="end" textLength="14" lengthAdjust="spacingAndGlyphs">0.0</text>
<line x1="339.9" y1="584.0" x2="528.0" y2="584.0" stroke="#222" stroke-width="1.3" stroke-dasharray="1.6 2.4"/>
<line x1="339.9" y1="516.5" x2="339.9" y2="544.1" stroke="#62c462" stroke-width="1.3"/>
<line x1="337.1" y1="516.5" x2="342.7" y2="516.5" stroke="#62c462" stroke-width="1.3"/>
<line x1="337.1" y1="544.1" x2="342.7" y2="544.1" stroke="#62c462" stroke-width="1.3"/>
<line x1="343.9" y1="523.9" x2="343.9" y2="536.7" stroke="#62c462" stroke-width="1.3"/>
<line x1="341.1" y1="523.9" x2="346.7" y2="523.9" stroke="#62c462" stroke-width="1.3"/>
<line x1="341.1" y1="536.7" x2="346.7" y2="536.7" stroke="#62c462" stroke-width="1.3"/>
<line x1="347.9" y1="529.8" x2="347.9" y2="540.4" stroke="#62c462" stroke-width="1.3"/>
<line x1="345.1" y1="529.8" x2="350.7" y2="529.8" stroke="#62c462" stroke-width="1.3"/>
<line x1="345.1" y1="540.4" x2="350.7" y2="540.4" stroke="#62c462" stroke-width="1.3"/>
<line x1="355.8" y1="539.4" x2="355.8" y2="542.5" stroke="#62c462" stroke-width="1.3"/>
<line x1="353.0" y1="539.4" x2="358.6" y2="539.4" stroke="#62c462" stroke-width="1.3"/>
<line x1="353.0" y1="542.5" x2="358.6" y2="542.5" stroke="#62c462" stroke-width="1.3"/>
<line x1="363.8" y1="542.8" x2="363.8" y2="550.2" stroke="#62c462" stroke-width="1.3"/>
<line x1="361.0" y1="542.8" x2="366.6" y2="542.8" stroke="#62c462" stroke-width="1.3"/>
<line x1="361.0" y1="550.2" x2="366.6" y2="550.2" stroke="#62c462" stroke-width="1.3"/>
<line x1="371.8" y1="550.7" x2="371.8" y2="557.1" stroke="#62c462" stroke-width="1.3"/>
<line x1="368.9" y1="550.7" x2="374.6" y2="550.7" stroke="#62c462" stroke-width="1.3"/>
<line x1="368.9" y1="557.1" x2="374.6" y2="557.1" stroke="#62c462" stroke-width="1.3"/>
<line x1="387.7" y1="561.7" x2="387.7" y2="564.9" stroke="#62c462" stroke-width="1.3"/>
<line x1="384.9" y1="561.7" x2="390.5" y2="561.7" stroke="#62c462" stroke-width="1.3"/>
<line x1="384.9" y1="564.9" x2="390.5" y2="564.9" stroke="#62c462" stroke-width="1.3"/>
<line x1="403.6" y1="574.5" x2="403.6" y2="580.9" stroke="#62c462" stroke-width="1.3"/>
<line x1="400.8" y1="574.5" x2="406.4" y2="574.5" stroke="#62c462" stroke-width="1.3"/>
<line x1="400.8" y1="580.9" x2="406.4" y2="580.9" stroke="#62c462" stroke-width="1.3"/>
<line x1="435.4" y1="591.1" x2="435.4" y2="594.3" stroke="#62c462" stroke-width="1.3"/>
<line x1="432.6" y1="591.1" x2="438.2" y2="591.1" stroke="#62c462" stroke-width="1.3"/>
<line x1="432.6" y1="594.3" x2="438.2" y2="594.3" stroke="#62c462" stroke-width="1.3"/>
<line x1="343.9" y1="526.6" x2="343.9" y2="535.1" stroke="#f08f55" stroke-width="1.3"/>
<line x1="341.1" y1="526.6" x2="346.7" y2="526.6" stroke="#f08f55" stroke-width="1.3"/>
<line x1="341.1" y1="535.1" x2="346.7" y2="535.1" stroke="#f08f55" stroke-width="1.3"/>
<line x1="347.9" y1="529.8" x2="347.9" y2="536.2" stroke="#f08f55" stroke-width="1.3"/>
<line x1="345.1" y1="529.8" x2="350.7" y2="529.8" stroke="#f08f55" stroke-width="1.3"/>
<line x1="345.1" y1="536.2" x2="350.7" y2="536.2" stroke="#f08f55" stroke-width="1.3"/>
<line x1="355.8" y1="532.1" x2="355.8" y2="538.5" stroke="#f08f55" stroke-width="1.3"/>
<line x1="353.0" y1="532.1" x2="358.6" y2="532.1" stroke="#f08f55" stroke-width="1.3"/>
<line x1="353.0" y1="538.5" x2="358.6" y2="538.5" stroke="#f08f55" stroke-width="1.3"/>
<line x1="363.8" y1="534.0" x2="363.8" y2="538.3" stroke="#f08f55" stroke-width="1.3"/>
<line x1="361.0" y1="534.0" x2="366.6" y2="534.0" stroke="#f08f55" stroke-width="1.3"/>
<line x1="361.0" y1="538.3" x2="366.6" y2="538.3" stroke="#f08f55" stroke-width="1.3"/>
<line x1="371.8" y1="535.1" x2="371.8" y2="541.5" stroke="#f08f55" stroke-width="1.3"/>
<line x1="368.9" y1="535.1" x2="374.6" y2="535.1" stroke="#f08f55" stroke-width="1.3"/>
<line x1="368.9" y1="541.5" x2="374.6" y2="541.5" stroke="#f08f55" stroke-width="1.3"/>
<line x1="387.7" y1="537.2" x2="387.7" y2="543.6" stroke="#f08f55" stroke-width="1.3"/>
<line x1="384.9" y1="537.2" x2="390.5" y2="537.2" stroke="#f08f55" stroke-width="1.3"/>
<line x1="384.9" y1="543.6" x2="390.5" y2="543.6" stroke="#f08f55" stroke-width="1.3"/>
<line x1="403.6" y1="542.0" x2="403.6" y2="549.5" stroke="#f08f55" stroke-width="1.3"/>
<line x1="400.8" y1="542.0" x2="406.4" y2="542.0" stroke="#f08f55" stroke-width="1.3"/>
<line x1="400.8" y1="549.5" x2="406.4" y2="549.5" stroke="#f08f55" stroke-width="1.3"/>
<line x1="435.4" y1="553.7" x2="435.4" y2="565.4" stroke="#f08f55" stroke-width="1.3"/>
<line x1="432.6" y1="553.7" x2="438.2" y2="553.7" stroke="#f08f55" stroke-width="1.3"/>
<line x1="432.6" y1="565.4" x2="438.2" y2="565.4" stroke="#f08f55" stroke-width="1.3"/>
<polyline points="339.9,530.3 343.9,530.8 347.9,533.0 355.8,535.3 363.8,536.2 371.8,538.3 387.7,540.4 403.6,545.7 435.4,559.6 531.0,580.0" fill="none" stroke="#ec6c26" stroke-width="2" stroke-linejoin="round"/>
<polyline points="339.9,530.3 343.9,530.8 347.9,535.1 355.8,540.9 363.8,546.5 371.8,553.9 387.7,563.3 403.6,577.7 435.4,592.7 531.0,618.8" fill="none" stroke="#27b427" stroke-width="2" stroke-linejoin="round"/>
<rect x="337.0" y="527.4" width="5.8" height="5.8" fill="#ec6c26"/>
<rect x="341.0" y="527.9" width="5.8" height="5.8" fill="#ec6c26"/>
<rect x="345.0" y="530.1" width="5.8" height="5.8" fill="#ec6c26"/>
<rect x="352.9" y="532.4" width="5.8" height="5.8" fill="#ec6c26"/>
<rect x="360.9" y="533.3" width="5.8" height="5.8" fill="#ec6c26"/>
<rect x="368.9" y="535.4" width="5.8" height="5.8" fill="#ec6c26"/>
<rect x="384.8" y="537.5" width="5.8" height="5.8" fill="#ec6c26"/>
<rect x="400.7" y="542.8" width="5.8" height="5.8" fill="#ec6c26"/>
<rect x="432.6" y="556.7" width="5.8" height="5.8" fill="#ec6c26"/>
<rect x="528.1" y="577.1" width="5.8" height="5.8" fill="#ec6c26"/>
<circle cx="339.9" cy="530.3" r="3.0" fill="#27b427"/>
<circle cx="343.9" cy="530.8" r="3.0" fill="#27b427"/>
<circle cx="347.9" cy="535.1" r="3.0" fill="#27b427"/>
<circle cx="355.8" cy="540.9" r="3.0" fill="#27b427"/>
<circle cx="363.8" cy="546.5" r="3.0" fill="#27b427"/>
<circle cx="371.8" cy="553.9" r="3.0" fill="#27b427"/>
<circle cx="387.7" cy="563.3" r="3.0" fill="#27b427"/>
<circle cx="403.6" cy="577.7" r="3.0" fill="#27b427"/>
<circle cx="435.4" cy="592.7" r="3.0" fill="#27b427"/>
<circle cx="531.0" cy="618.8" r="3.0" fill="#27b427"/>
<line x1="485.6" y1="514.1" x2="498.4" y2="514.1" stroke="#27b427" stroke-width="1.8"/>
<circle cx="492.0" cy="514.1" r="2.8" fill="#27b427"/>
<text x="499.6" y="518.4" font-size="13.6" font-weight="bold" fill="#000" text-anchor="start" textLength="40.4" lengthAdjust="spacingAndGlyphs">PDC-5</text>
<line x1="485.6" y1="531.3" x2="498.4" y2="531.3" stroke="#ec6c26" stroke-width="1.8"/>
<rect x="489.1" y="528.4" width="5.8" height="5.8" fill="#ec6c26"/>
<text x="499.6" y="536.3" font-size="13.6" font-weight="bold" fill="#000" text-anchor="start" textLength="40.4" lengthAdjust="spacingAndGlyphs">PDC-2</text>
<text x="364.4" y="515" font-size="12.8" font-weight="bold" fill="#000" textLength="100" lengthAdjust="spacingAndGlyphs">PDC-5 t<tspan font-size="8.5" dy="2.5">1/2</tspan><tspan dy="-2.5">=9.2 h</tspan></text>
<text x="364.4" y="532.6" font-size="12.8" font-weight="bold" fill="#000" textLength="95.8" lengthAdjust="spacingAndGlyphs">PDC-2 t<tspan font-size="8.5" dy="2.5">1/2</tspan><tspan dy="-2.5">&gt;24 h</tspan></text>
<text x="434.8" y="676.8" font-size="15" font-weight="bold" fill="#000" text-anchor="middle" textLength="54.2" lengthAdjust="spacingAndGlyphs">Time (h)</text>
<text x="442.6" y="699.5" font-size="17.8" font-weight="bold" fill="#000" text-anchor="middle" textLength="141.9" lengthAdjust="spacingAndGlyphs">plasma stability</text>
<text transform="translate(311.6,632) rotate(-90)" x="0" y="0" font-size="14.6" font-weight="bold" fill="#000" textLength="124.5" lengthAdjust="spacingAndGlyphs">Ramaining fraction</text>
<text x="661.0" y="542.0" font-size="19.6" font-weight="bold" fill="#000" text-anchor="middle" textLength="169.5" lengthAdjust="spacingAndGlyphs">A549 Tumor Model</text>
<rect x="606.2" y="547.6" width="112.6" height="57" rx="7" fill="#fff" stroke="#3a3a3a" stroke-width="1.1"/>
<line x1="612.8" y1="555.3" x2="621.6" y2="555.3" stroke="#666" stroke-width="1"/>
<circle cx="617.2" cy="555.3" r="2.0" fill="#ef8a22"/>
<text x="624.2" y="559.1" font-size="10.6" font-weight="bold" fill="#000" text-anchor="start" textLength="16.4" lengthAdjust="spacingAndGlyphs">Ctrl</text>
<line x1="612.8" y1="568.0" x2="621.6" y2="568.0" stroke="#666" stroke-width="1"/>
<circle cx="617.2" cy="568.0" r="2.0" fill="#98ec98"/>
<text x="624.2" y="571.8" font-size="10.6" font-weight="bold" fill="#000" text-anchor="start" textLength="91.4" lengthAdjust="spacingAndGlyphs">CPT-11 (100 mg/kg)</text>
<line x1="612.8" y1="579.9" x2="621.6" y2="579.9" stroke="#666" stroke-width="1"/>
<circle cx="617.2" cy="579.9" r="2.0" fill="#4f97e8"/>
<text x="624.2" y="583.7" font-size="10.6" font-weight="bold" fill="#000" text-anchor="start" textLength="84.2" lengthAdjust="spacingAndGlyphs">FL118 (0.5 mg/kg)</text>
<line x1="612.8" y1="592.2" x2="621.6" y2="592.2" stroke="#666" stroke-width="1"/>
<circle cx="617.2" cy="592.2" r="2.0" fill="#8c0c0c"/>
<text x="624.2" y="596.0" font-size="10.6" font-weight="bold" fill="#000" text-anchor="start" textLength="77" lengthAdjust="spacingAndGlyphs">PDC-2 (3 mg/kg)</text>
<line x1="598.0" y1="568.0" x2="598.0" y2="668.5" stroke="#000" stroke-width="2"/>
<line x1="594.6" y1="665.2" x2="758.4" y2="665.2" stroke="#000" stroke-width="2"/>
<line x1="594.6" y1="665.2" x2="598.0" y2="665.2" stroke="#000" stroke-width="1.6"/>
<line x1="594.6" y1="641.0" x2="598.0" y2="641.0" stroke="#000" stroke-width="1.6"/>
<line x1="594.6" y1="616.8" x2="598.0" y2="616.8" stroke="#000" stroke-width="1.6"/>
<line x1="594.6" y1="592.6" x2="598.0" y2="592.6" stroke="#000" stroke-width="1.6"/>
<line x1="594.6" y1="568.4" x2="598.0" y2="568.4" stroke="#000" stroke-width="1.6"/>
<text x="592.3" y="574.5" font-size="10.6" font-weight="bold" fill="#000" text-anchor="end" textLength="21.6" lengthAdjust="spacingAndGlyphs">2000</text>
<text x="592.3" y="599.0" font-size="10.6" font-weight="bold" fill="#000" text-anchor="end" textLength="21.6" lengthAdjust="spacingAndGlyphs">1500</text>
<text x="592.3" y="623.6" font-size="10.6" font-weight="bold" fill="#000" text-anchor="end" textLength="21.6" lengthAdjust="spacingAndGlyphs">1000</text>
<text x="592.3" y="647.4" font-size="10.6" font-weight="bold" fill="#000" text-anchor="end" textLength="16.2" lengthAdjust="spacingAndGlyphs">500</text>
<text x="592.3" y="670.8" font-size="10.6" font-weight="bold" fill="#000" text-anchor="end" textLength="5.4" lengthAdjust="spacingAndGlyphs">0</text>
<line x1="598.0" y1="665.2" x2="598.0" y2="668.5" stroke="#000" stroke-width="1.6"/>
<text x="598.2" y="682.4" font-size="14.8" font-weight="bold" fill="#000" text-anchor="middle" textLength="7.2" lengthAdjust="spacingAndGlyphs">0</text>
<line x1="651.2" y1="665.2" x2="651.2" y2="668.5" stroke="#000" stroke-width="1.6"/>
<text x="648.2" y="682.4" font-size="14.8" font-weight="bold" fill="#000" text-anchor="middle" textLength="14.2" lengthAdjust="spacingAndGlyphs">10</text>
<line x1="704.4" y1="665.2" x2="704.4" y2="668.5" stroke="#000" stroke-width="1.6"/>
<text x="701.4" y="682.4" font-size="14.8" font-weight="bold" fill="#000" text-anchor="middle" textLength="14.2" lengthAdjust="spacingAndGlyphs">20</text>
<line x1="757.6" y1="665.2" x2="757.6" y2="668.5" stroke="#000" stroke-width="1.6"/>
<text x="754.9" y="682.4" font-size="14.8" font-weight="bold" fill="#000" text-anchor="middle" textLength="14.2" lengthAdjust="spacingAndGlyphs">30</text>
<text x="675.5" y="696.4" font-size="14.6" font-weight="bold" fill="#000" text-anchor="middle" textLength="27" lengthAdjust="spacingAndGlyphs">Day</text>
<text transform="translate(571.4,679) rotate(-90)" font-size="14.8" font-weight="bold" fill="#000" textLength="134" lengthAdjust="spacingAndGlyphs">Tumor volume (mm<tspan font-size="9.5" dy="-4.2">3</tspan><tspan dy="4.2">)</tspan></text>
<line x1="683.1" y1="633.3" x2="683.1" y2="641.7" stroke="#6a6a6a" stroke-width="1.2"/>
<line x1="680.9" y1="633.3" x2="685.3" y2="633.3" stroke="#6a6a6a" stroke-width="1.2"/>
<line x1="680.9" y1="641.7" x2="685.3" y2="641.7" stroke="#6a6a6a" stroke-width="1.2"/>
<line x1="693.8" y1="625.2" x2="693.8" y2="634.7" stroke="#6a6a6a" stroke-width="1.2"/>
<line x1="691.6" y1="625.2" x2="696.0" y2="625.2" stroke="#6a6a6a" stroke-width="1.2"/>
<line x1="691.6" y1="634.7" x2="696.0" y2="634.7" stroke="#6a6a6a" stroke-width="1.2"/>
<line x1="704.4" y1="620.4" x2="704.4" y2="633.7" stroke="#6a6a6a" stroke-width="1.2"/>
<line x1="702.2" y1="620.4" x2="706.6" y2="620.4" stroke="#6a6a6a" stroke-width="1.2"/>
<line x1="702.2" y1="633.7" x2="706.6" y2="633.7" stroke="#6a6a6a" stroke-width="1.2"/>
<line x1="715.0" y1="607.5" x2="715.0" y2="629.0" stroke="#6a6a6a" stroke-width="1.2"/>
<line x1="712.8" y1="607.5" x2="717.2" y2="607.5" stroke="#6a6a6a" stroke-width="1.2"/>
<line x1="712.8" y1="629.0" x2="717.2" y2="629.0" stroke="#6a6a6a" stroke-width="1.2"/>
<line x1="725.7" y1="597.6" x2="725.7" y2="626.1" stroke="#6a6a6a" stroke-width="1.2"/>
<line x1="723.5" y1="597.6" x2="727.9" y2="597.6" stroke="#6a6a6a" stroke-width="1.2"/>
<line x1="723.5" y1="626.1" x2="727.9" y2="626.1" stroke="#6a6a6a" stroke-width="1.2"/>
<line x1="736.3" y1="586.8" x2="736.3" y2="615.7" stroke="#6a6a6a" stroke-width="1.2"/>
<line x1="734.1" y1="586.8" x2="738.5" y2="586.8" stroke="#6a6a6a" stroke-width="1.2"/>
<line x1="734.1" y1="615.7" x2="738.5" y2="615.7" stroke="#6a6a6a" stroke-width="1.2"/>
<line x1="661.8" y1="646.6" x2="661.8" y2="650.4" stroke="#6a6a6a" stroke-width="1.2"/>
<line x1="659.6" y1="646.6" x2="664.0" y2="646.6" stroke="#6a6a6a" stroke-width="1.2"/>
<line x1="659.6" y1="650.4" x2="664.0" y2="650.4" stroke="#6a6a6a" stroke-width="1.2"/>
<line x1="672.5" y1="644.2" x2="672.5" y2="647.0" stroke="#6a6a6a" stroke-width="1.2"/>
<line x1="670.3" y1="644.2" x2="674.7" y2="644.2" stroke="#6a6a6a" stroke-width="1.2"/>
<line x1="670.3" y1="647.0" x2="674.7" y2="647.0" stroke="#6a6a6a" stroke-width="1.2"/>
<line x1="629.9" y1="652.7" x2="629.9" y2="656.9" stroke="#6a6a6a" stroke-width="1.2"/>
<line x1="627.7" y1="652.7" x2="632.1" y2="652.7" stroke="#6a6a6a" stroke-width="1.2"/>
<line x1="627.7" y1="656.9" x2="632.1" y2="656.9" stroke="#6a6a6a" stroke-width="1.2"/>
<line x1="640.6" y1="650.4" x2="640.6" y2="654.2" stroke="#6a6a6a" stroke-width="1.2"/>
<line x1="638.4" y1="650.4" x2="642.8" y2="650.4" stroke="#6a6a6a" stroke-width="1.2"/>
<line x1="638.4" y1="654.2" x2="642.8" y2="654.2" stroke="#6a6a6a" stroke-width="1.2"/>
<line x1="651.2" y1="648.5" x2="651.2" y2="652.3" stroke="#6a6a6a" stroke-width="1.2"/>
<line x1="649.0" y1="648.5" x2="653.4" y2="648.5" stroke="#6a6a6a" stroke-width="1.2"/>
<line x1="649.0" y1="652.3" x2="653.4" y2="652.3" stroke="#6a6a6a" stroke-width="1.2"/>
<line x1="725.7" y1="629.0" x2="725.7" y2="635.6" stroke="#5a5a5a" stroke-width="1.2"/>
<line x1="723.5" y1="629.0" x2="727.9" y2="629.0" stroke="#5a5a5a" stroke-width="1.2"/>
<line x1="723.5" y1="635.6" x2="727.9" y2="635.6" stroke="#5a5a5a" stroke-width="1.2"/>
<line x1="736.3" y1="622.7" x2="736.3" y2="632.2" stroke="#5a5a5a" stroke-width="1.2"/>
<line x1="734.1" y1="622.7" x2="738.5" y2="622.7" stroke="#5a5a5a" stroke-width="1.2"/>
<line x1="734.1" y1="632.2" x2="738.5" y2="632.2" stroke="#5a5a5a" stroke-width="1.2"/>
<line x1="715.0" y1="634.7" x2="715.0" y2="638.5" stroke="#5a5a5a" stroke-width="1.2"/>
<line x1="712.8" y1="634.7" x2="717.2" y2="634.7" stroke="#5a5a5a" stroke-width="1.2"/>
<line x1="712.8" y1="638.5" x2="717.2" y2="638.5" stroke="#5a5a5a" stroke-width="1.2"/>
<line x1="704.4" y1="637.5" x2="704.4" y2="641.3" stroke="#5a5a5a" stroke-width="1.2"/>
<line x1="702.2" y1="637.5" x2="706.6" y2="637.5" stroke="#5a5a5a" stroke-width="1.2"/>
<line x1="702.2" y1="641.3" x2="706.6" y2="641.3" stroke="#5a5a5a" stroke-width="1.2"/>
<line x1="693.8" y1="639.8" x2="693.8" y2="643.6" stroke="#5a5a5a" stroke-width="1.2"/>
<line x1="691.6" y1="639.8" x2="696.0" y2="639.8" stroke="#5a5a5a" stroke-width="1.2"/>
<line x1="691.6" y1="643.6" x2="696.0" y2="643.6" stroke="#5a5a5a" stroke-width="1.2"/>
<line x1="683.1" y1="643.2" x2="683.1" y2="647.0" stroke="#5a5a5a" stroke-width="1.2"/>
<line x1="680.9" y1="643.2" x2="685.3" y2="643.2" stroke="#5a5a5a" stroke-width="1.2"/>
<line x1="680.9" y1="647.0" x2="685.3" y2="647.0" stroke="#5a5a5a" stroke-width="1.2"/>
<line x1="736.3" y1="641.3" x2="736.3" y2="647.0" stroke="#5a5a5a" stroke-width="1.2"/>
<line x1="734.1" y1="641.3" x2="738.5" y2="641.3" stroke="#5a5a5a" stroke-width="1.2"/>
<line x1="734.1" y1="647.0" x2="738.5" y2="647.0" stroke="#5a5a5a" stroke-width="1.2"/>
<line x1="725.7" y1="643.2" x2="725.7" y2="648.0" stroke="#5a5a5a" stroke-width="1.2"/>
<line x1="723.5" y1="643.2" x2="727.9" y2="643.2" stroke="#5a5a5a" stroke-width="1.2"/>
<line x1="723.5" y1="648.0" x2="727.9" y2="648.0" stroke="#5a5a5a" stroke-width="1.2"/>
<line x1="715.0" y1="644.2" x2="715.0" y2="649.3" stroke="#5a5a5a" stroke-width="1.2"/>
<line x1="712.8" y1="644.2" x2="717.2" y2="644.2" stroke="#5a5a5a" stroke-width="1.2"/>
<line x1="712.8" y1="649.3" x2="717.2" y2="649.3" stroke="#5a5a5a" stroke-width="1.2"/>
<line x1="704.4" y1="644.7" x2="704.4" y2="648.9" stroke="#5a5a5a" stroke-width="1.2"/>
<line x1="702.2" y1="644.7" x2="706.6" y2="644.7" stroke="#5a5a5a" stroke-width="1.2"/>
<line x1="702.2" y1="648.9" x2="706.6" y2="648.9" stroke="#5a5a5a" stroke-width="1.2"/>
<line x1="693.8" y1="645.1" x2="693.8" y2="649.3" stroke="#5a5a5a" stroke-width="1.2"/>
<line x1="691.6" y1="645.1" x2="696.0" y2="645.1" stroke="#5a5a5a" stroke-width="1.2"/>
<line x1="691.6" y1="649.3" x2="696.0" y2="649.3" stroke="#5a5a5a" stroke-width="1.2"/>
<line x1="715.0" y1="648.0" x2="715.0" y2="653.7" stroke="#5a5a5a" stroke-width="1.2"/>
<line x1="712.8" y1="648.0" x2="717.2" y2="648.0" stroke="#5a5a5a" stroke-width="1.2"/>
<line x1="712.8" y1="653.7" x2="717.2" y2="653.7" stroke="#5a5a5a" stroke-width="1.2"/>
<polyline points="598.0,659.5 608.6,659.0 619.3,657.8 629.9,657.8 640.6,655.0 651.2,654.6 661.8,653.1 672.5,652.7 683.1,652.3 693.8,651.8 704.4,651.2 715.0,650.8 725.7,650.4 736.3,648.0" fill="none" stroke="#3a3a3a" stroke-width="1.1" stroke-linejoin="round"/>
<polyline points="598.0,659.5 608.6,658.8 619.3,657.8 629.9,656.9 640.6,654.6 651.2,651.2 661.8,649.9 672.5,649.9 683.1,648.9 693.8,647.4 704.4,646.6 715.0,646.6 725.7,645.7 736.3,644.2" fill="none" stroke="#3a3a3a" stroke-width="1.1" stroke-linejoin="round"/>
<polyline points="598.0,659.9 608.6,659.2 619.3,658.4 629.9,657.6 640.6,655.6 651.2,652.1 661.8,649.9 672.5,648.9 683.1,645.1 693.8,641.7 704.4,639.4 715.0,636.6 725.7,632.2 736.3,627.1" fill="none" stroke="#3a3a3a" stroke-width="1.1" stroke-linejoin="round"/>
<polyline points="598.0,659.4 608.6,658.4 619.3,656.5 629.9,654.6 640.6,652.3 651.2,650.4 661.8,648.5 672.5,645.5 683.1,638.1 693.8,629.9 704.4,627.1 715.0,618.1 725.7,611.9 736.3,601.8" fill="none" stroke="#3a3a3a" stroke-width="1.1" stroke-linejoin="round"/>
<circle cx="598.0" cy="659.5" r="2.5" fill="#8c0c0c"/>
<circle cx="608.6" cy="659.0" r="2.5" fill="#8c0c0c"/>
<circle cx="619.3" cy="657.8" r="2.5" fill="#8c0c0c"/>
<circle cx="629.9" cy="657.8" r="2.5" fill="#8c0c0c"/>
<circle cx="640.6" cy="655.0" r="2.5" fill="#8c0c0c"/>
<circle cx="651.2" cy="654.6" r="2.5" fill="#8c0c0c"/>
<circle cx="661.8" cy="653.1" r="2.5" fill="#8c0c0c"/>
<circle cx="672.5" cy="652.7" r="2.5" fill="#8c0c0c"/>
<circle cx="683.1" cy="652.3" r="2.5" fill="#8c0c0c"/>
<circle cx="693.8" cy="651.8" r="2.5" fill="#8c0c0c"/>
<circle cx="704.4" cy="651.2" r="2.5" fill="#8c0c0c"/>
<circle cx="715.0" cy="650.8" r="2.5" fill="#8c0c0c"/>
<circle cx="725.7" cy="650.4" r="2.5" fill="#8c0c0c"/>
<circle cx="736.3" cy="648.0" r="2.5" fill="#8c0c0c"/>
<circle cx="598.0" cy="659.5" r="2.5" fill="#4f97e8"/>
<circle cx="608.6" cy="658.8" r="2.5" fill="#4f97e8"/>
<circle cx="619.3" cy="657.8" r="2.5" fill="#4f97e8"/>
<circle cx="629.9" cy="656.9" r="2.5" fill="#4f97e8"/>
<circle cx="640.6" cy="654.6" r="2.5" fill="#4f97e8"/>
<circle cx="651.2" cy="651.2" r="2.5" fill="#4f97e8"/>
<circle cx="661.8" cy="649.9" r="2.5" fill="#4f97e8"/>
<circle cx="672.5" cy="649.9" r="2.5" fill="#4f97e8"/>
<circle cx="683.1" cy="648.9" r="2.5" fill="#4f97e8"/>
<circle cx="693.8" cy="647.4" r="2.5" fill="#4f97e8"/>
<circle cx="704.4" cy="646.6" r="2.5" fill="#4f97e8"/>
<circle cx="715.0" cy="646.6" r="2.5" fill="#4f97e8"/>
<circle cx="725.7" cy="645.7" r="2.5" fill="#4f97e8"/>
<circle cx="736.3" cy="644.2" r="2.5" fill="#4f97e8"/>
<circle cx="598.0" cy="659.9" r="2.5" fill="#98ec98"/>
<circle cx="608.6" cy="659.2" r="2.5" fill="#98ec98"/>
<circle cx="619.3" cy="658.4" r="2.5" fill="#98ec98"/>
<circle cx="629.9" cy="657.6" r="2.5" fill="#98ec98"/>
<circle cx="640.6" cy="655.6" r="2.5" fill="#98ec98"/>
<circle cx="651.2" cy="652.1" r="2.5" fill="#98ec98"/>
<circle cx="661.8" cy="649.9" r="2.5" fill="#98ec98"/>
<circle cx="672.5" cy="648.9" r="2.5" fill="#98ec98"/>
<circle cx="683.1" cy="645.1" r="2.5" fill="#98ec98"/>
<circle cx="693.8" cy="641.7" r="2.5" fill="#98ec98"/>
<circle cx="704.4" cy="639.4" r="2.5" fill="#98ec98"/>
<circle cx="715.0" cy="636.6" r="2.5" fill="#98ec98"/>
<circle cx="725.7" cy="632.2" r="2.5" fill="#98ec98"/>
<circle cx="736.3" cy="627.1" r="2.5" fill="#98ec98"/>
<circle cx="598.0" cy="659.4" r="2.5" fill="#ef8a22"/>
<circle cx="608.6" cy="658.4" r="2.5" fill="#ef8a22"/>
<circle cx="619.3" cy="656.5" r="2.5" fill="#ef8a22"/>
<circle cx="629.9" cy="654.6" r="2.5" fill="#ef8a22"/>
<circle cx="640.6" cy="652.3" r="2.5" fill="#ef8a22"/>
<circle cx="651.2" cy="650.4" r="2.5" fill="#ef8a22"/>
<circle cx="661.8" cy="648.5" r="2.5" fill="#ef8a22"/>
<circle cx="672.5" cy="645.5" r="2.5" fill="#ef8a22"/>
<circle cx="683.1" cy="638.1" r="2.5" fill="#ef8a22"/>
<circle cx="693.8" cy="629.9" r="2.5" fill="#ef8a22"/>
<circle cx="704.4" cy="627.1" r="2.5" fill="#ef8a22"/>
<circle cx="715.0" cy="618.1" r="2.5" fill="#ef8a22"/>
<circle cx="725.7" cy="611.9" r="2.5" fill="#ef8a22"/>
<circle cx="736.3" cy="601.8" r="2.5" fill="#ef8a22"/>
<path d="M767.7,599.5 L771.5,599.5 L771.5,628 L767.7,628" fill="none" stroke="#333" stroke-width="1.3"/>
<path d="M753,629 L759.7,629 L759.7,648.9 L753,648.9" fill="none" stroke="#333" stroke-width="1.3"/>
<path d="M741.8,644.2 L745,644.2 L745,647.8 L741.8,647.8" fill="none" stroke="#222" stroke-width="1.6"/>
<text x="746.0" y="648.2" font-size="8" font-weight="normal" fill="#333" text-anchor="start">ns</text>
<circle cx="779.5" cy="614.3" r="0.9" fill="#333"/>
<circle cx="764.0" cy="639.8" r="0.9" fill="#333"/>
<text x="883.0" y="542.0" font-size="19.6" font-weight="bold" fill="#000" text-anchor="middle" textLength="192.4" lengthAdjust="spacingAndGlyphs">AsPC-1 Tumor Model</text>
<rect x="826" y="544.8" width="113" height="63" rx="7" fill="#fff" stroke="#3a3a3a" stroke-width="1.1"/>
<line x1="831.7" y1="551.9" x2="841.6" y2="551.9" stroke="#666" stroke-width="1"/>
<circle cx="836.8" cy="551.9" r="2.2" fill="#9a9a9a"/>
<text x="843.8" y="555.7" font-size="10.6" font-weight="bold" fill="#000" text-anchor="start" textLength="16.5" lengthAdjust="spacingAndGlyphs">Ctrl</text>
<line x1="831.7" y1="564.7" x2="841.6" y2="564.7" stroke="#666" stroke-width="1"/>
<circle cx="836.8" cy="564.7" r="2.2" fill="#8fe88f"/>
<text x="843.8" y="568.5" font-size="10.6" font-weight="bold" fill="#000" text-anchor="start" textLength="92" lengthAdjust="spacingAndGlyphs">FL118 (0.75 mg/kg)</text>
<line x1="831.7" y1="576.8" x2="841.6" y2="576.8" stroke="#666" stroke-width="1"/>
<circle cx="836.8" cy="576.8" r="2.2" fill="#4f97e8"/>
<text x="843.8" y="580.6" font-size="10.6" font-weight="bold" fill="#000" text-anchor="start" textLength="86.2" lengthAdjust="spacingAndGlyphs">FL118 (1.5 mg/kg)</text>
<line x1="831.7" y1="589.3" x2="841.6" y2="589.3" stroke="#666" stroke-width="1"/>
<circle cx="836.8" cy="589.3" r="2.2" fill="#f0a050"/>
<text x="843.8" y="593.1" font-size="10.6" font-weight="bold" fill="#000" text-anchor="start" textLength="79" lengthAdjust="spacingAndGlyphs">PDC-2 (3 mg/kg)</text>
<line x1="831.7" y1="601.4" x2="841.6" y2="601.4" stroke="#666" stroke-width="1"/>
<circle cx="836.8" cy="601.4" r="2.2" fill="#e8621e"/>
<text x="843.8" y="605.2" font-size="10.6" font-weight="bold" fill="#000" text-anchor="start" textLength="79" lengthAdjust="spacingAndGlyphs">PDC-2 (6 mg/kg)</text>
<line x1="812.6" y1="596.4" x2="812.6" y2="670.5" stroke="#000" stroke-width="2"/>
<line x1="809.0" y1="667.6" x2="955.5" y2="667.6" stroke="#000" stroke-width="2"/>
<line x1="809.0" y1="667.6" x2="812.6" y2="667.6" stroke="#000" stroke-width="1.6"/>
<line x1="809.0" y1="649.7" x2="812.6" y2="649.7" stroke="#000" stroke-width="1.6"/>
<line x1="809.0" y1="631.9" x2="812.6" y2="631.9" stroke="#000" stroke-width="1.6"/>
<line x1="809.0" y1="614.0" x2="812.6" y2="614.0" stroke="#000" stroke-width="1.6"/>
<line x1="809.0" y1="596.2" x2="812.6" y2="596.2" stroke="#000" stroke-width="1.6"/>
<text x="811.0" y="601.2" font-size="10.6" font-weight="bold" fill="#000" text-anchor="end" textLength="16.5" lengthAdjust="spacingAndGlyphs">800</text>
<text x="811.0" y="619.2" font-size="10.6" font-weight="bold" fill="#000" text-anchor="end" textLength="16.5" lengthAdjust="spacingAndGlyphs">600</text>
<text x="811.0" y="637.8" font-size="10.6" font-weight="bold" fill="#000" text-anchor="end" textLength="16.5" lengthAdjust="spacingAndGlyphs">400</text>
<text x="811.0" y="655.5" font-size="10.6" font-weight="bold" fill="#000" text-anchor="end" textLength="16.5" lengthAdjust="spacingAndGlyphs">200</text>
<text x="811.0" y="673.0" font-size="10.6" font-weight="bold" fill="#000" text-anchor="end" textLength="5.5" lengthAdjust="spacingAndGlyphs">0</text>
<line x1="812.6" y1="667.6" x2="812.6" y2="670.5" stroke="#000" stroke-width="1.6"/>
<text x="811.1" y="683.7" font-size="12.2" font-weight="bold" fill="#000" text-anchor="middle" textLength="6.6" lengthAdjust="spacingAndGlyphs">0</text>
<line x1="828.4" y1="667.6" x2="828.4" y2="670.5" stroke="#000" stroke-width="1.6"/>
<text x="828.7" y="683.7" font-size="12.2" font-weight="bold" fill="#000" text-anchor="middle" textLength="6.6" lengthAdjust="spacingAndGlyphs">2</text>
<line x1="844.2" y1="667.6" x2="844.2" y2="670.5" stroke="#000" stroke-width="1.6"/>
<text x="842.1" y="683.7" font-size="12.2" font-weight="bold" fill="#000" text-anchor="middle" textLength="6.6" lengthAdjust="spacingAndGlyphs">4</text>
<line x1="860.0" y1="667.6" x2="860.0" y2="670.5" stroke="#000" stroke-width="1.6"/>
<text x="859.4" y="683.7" font-size="12.2" font-weight="bold" fill="#000" text-anchor="middle" textLength="6.6" lengthAdjust="spacingAndGlyphs">6</text>
<line x1="875.8" y1="667.6" x2="875.8" y2="670.5" stroke="#000" stroke-width="1.6"/>
<text x="873.0" y="683.7" font-size="12.2" font-weight="bold" fill="#000" text-anchor="middle" textLength="6.6" lengthAdjust="spacingAndGlyphs">8</text>
<line x1="891.6" y1="667.6" x2="891.6" y2="670.5" stroke="#000" stroke-width="1.6"/>
<text x="886.9" y="683.7" font-size="12.2" font-weight="bold" fill="#000" text-anchor="middle" textLength="12" lengthAdjust="spacingAndGlyphs">10</text>
<line x1="907.4" y1="667.6" x2="907.4" y2="670.5" stroke="#000" stroke-width="1.6"/>
<text x="904.2" y="683.7" font-size="12.2" font-weight="bold" fill="#000" text-anchor="middle" textLength="12" lengthAdjust="spacingAndGlyphs">12</text>
<line x1="923.2" y1="667.6" x2="923.2" y2="670.5" stroke="#000" stroke-width="1.6"/>
<text x="921.0" y="683.7" font-size="12.2" font-weight="bold" fill="#000" text-anchor="middle" textLength="12" lengthAdjust="spacingAndGlyphs">14</text>
<line x1="939.0" y1="667.6" x2="939.0" y2="670.5" stroke="#000" stroke-width="1.6"/>
<text x="937.8" y="683.7" font-size="12.2" font-weight="bold" fill="#000" text-anchor="middle" textLength="12" lengthAdjust="spacingAndGlyphs">16</text>
<line x1="954.8" y1="667.6" x2="954.8" y2="670.5" stroke="#000" stroke-width="1.6"/>
<text x="954.6" y="683.7" font-size="12.2" font-weight="bold" fill="#000" text-anchor="middle" textLength="12" lengthAdjust="spacingAndGlyphs">18</text>
<text x="885.0" y="701.3" font-size="14.6" font-weight="bold" fill="#000" text-anchor="middle" textLength="26.5" lengthAdjust="spacingAndGlyphs">Day</text>
<text transform="translate(794.2,690) rotate(-90)" font-size="14.8" font-weight="bold" fill="#000" textLength="134" lengthAdjust="spacingAndGlyphs">Tumor volume (mm<tspan font-size="9.5" dy="-4.2">3</tspan><tspan dy="4.2">)</tspan></text>
<line x1="812.6" y1="645.0" x2="812.6" y2="656.0" stroke="#222" stroke-width="1.2"/>
<line x1="810.2" y1="645.0" x2="815.0" y2="645.0" stroke="#222" stroke-width="1.2"/>
<line x1="810.2" y1="656.0" x2="815.0" y2="656.0" stroke="#222" stroke-width="1.2"/>
<line x1="828.4" y1="629.6" x2="828.4" y2="641.0" stroke="#222" stroke-width="1.2"/>
<line x1="826.0" y1="629.6" x2="830.8" y2="629.6" stroke="#222" stroke-width="1.2"/>
<line x1="826.0" y1="641.0" x2="830.8" y2="641.0" stroke="#222" stroke-width="1.2"/>
<line x1="844.2" y1="629.6" x2="844.2" y2="635.1" stroke="#222" stroke-width="1.2"/>
<line x1="841.8" y1="629.6" x2="846.6" y2="629.6" stroke="#222" stroke-width="1.2"/>
<line x1="841.8" y1="635.1" x2="846.6" y2="635.1" stroke="#222" stroke-width="1.2"/>
<line x1="860.0" y1="628.5" x2="860.0" y2="632.2" stroke="#222" stroke-width="1.2"/>
<line x1="857.6" y1="628.5" x2="862.4" y2="628.5" stroke="#222" stroke-width="1.2"/>
<line x1="857.6" y1="632.2" x2="862.4" y2="632.2" stroke="#222" stroke-width="1.2"/>
<line x1="875.8" y1="621.9" x2="875.8" y2="634.0" stroke="#222" stroke-width="1.2"/>
<line x1="873.4" y1="621.9" x2="878.2" y2="621.9" stroke="#222" stroke-width="1.2"/>
<line x1="873.4" y1="634.0" x2="878.2" y2="634.0" stroke="#222" stroke-width="1.2"/>
<line x1="891.6" y1="621.9" x2="891.6" y2="629.2" stroke="#222" stroke-width="1.2"/>
<line x1="889.2" y1="621.9" x2="894.0" y2="621.9" stroke="#222" stroke-width="1.2"/>
<line x1="889.2" y1="629.2" x2="894.0" y2="629.2" stroke="#222" stroke-width="1.2"/>
<line x1="907.4" y1="618.2" x2="907.4" y2="627.8" stroke="#222" stroke-width="1.2"/>
<line x1="905.0" y1="618.2" x2="909.8" y2="618.2" stroke="#222" stroke-width="1.2"/>
<line x1="905.0" y1="627.8" x2="909.8" y2="627.8" stroke="#222" stroke-width="1.2"/>
<line x1="923.2" y1="610.9" x2="923.2" y2="624.1" stroke="#222" stroke-width="1.2"/>
<line x1="920.8" y1="610.9" x2="925.6" y2="610.9" stroke="#222" stroke-width="1.2"/>
<line x1="920.8" y1="624.1" x2="925.6" y2="624.1" stroke="#222" stroke-width="1.2"/>
<line x1="939.0" y1="610.2" x2="939.0" y2="620.8" stroke="#222" stroke-width="1.2"/>
<line x1="936.6" y1="610.2" x2="941.4" y2="610.2" stroke="#222" stroke-width="1.2"/>
<line x1="936.6" y1="620.8" x2="941.4" y2="620.8" stroke="#222" stroke-width="1.2"/>
<line x1="954.8" y1="597.7" x2="954.8" y2="620.8" stroke="#222" stroke-width="1.2"/>
<line x1="952.4" y1="597.7" x2="957.2" y2="597.7" stroke="#222" stroke-width="1.2"/>
<line x1="952.4" y1="620.8" x2="957.2" y2="620.8" stroke="#222" stroke-width="1.2"/>
<line x1="812.6" y1="660.8" x2="812.6" y2="667.4" stroke="#222" stroke-width="1.2"/>
<line x1="810.2" y1="660.8" x2="815.0" y2="660.8" stroke="#222" stroke-width="1.2"/>
<line x1="810.2" y1="667.4" x2="815.0" y2="667.4" stroke="#222" stroke-width="1.2"/>
<line x1="875.8" y1="639.5" x2="875.8" y2="643.9" stroke="#444" stroke-width="1.1"/>
<line x1="873.6" y1="639.5" x2="878.0" y2="639.5" stroke="#444" stroke-width="1.1"/>
<line x1="873.6" y1="643.9" x2="878.0" y2="643.9" stroke="#444" stroke-width="1.1"/>
<line x1="907.4" y1="636.6" x2="907.4" y2="641.0" stroke="#444" stroke-width="1.1"/>
<line x1="905.2" y1="636.6" x2="909.6" y2="636.6" stroke="#444" stroke-width="1.1"/>
<line x1="905.2" y1="641.0" x2="909.6" y2="641.0" stroke="#444" stroke-width="1.1"/>
<line x1="923.2" y1="635.8" x2="923.2" y2="640.2" stroke="#444" stroke-width="1.1"/>
<line x1="921.0" y1="635.8" x2="925.4" y2="635.8" stroke="#444" stroke-width="1.1"/>
<line x1="921.0" y1="640.2" x2="925.4" y2="640.2" stroke="#444" stroke-width="1.1"/>
<line x1="939.0" y1="634.4" x2="939.0" y2="638.8" stroke="#444" stroke-width="1.1"/>
<line x1="936.8" y1="634.4" x2="941.2" y2="634.4" stroke="#444" stroke-width="1.1"/>
<line x1="936.8" y1="638.8" x2="941.2" y2="638.8" stroke="#444" stroke-width="1.1"/>
<line x1="954.8" y1="632.9" x2="954.8" y2="638.0" stroke="#444" stroke-width="1.1"/>
<line x1="952.6" y1="632.9" x2="957.0" y2="632.9" stroke="#444" stroke-width="1.1"/>
<line x1="952.6" y1="638.0" x2="957.0" y2="638.0" stroke="#444" stroke-width="1.1"/>
<polyline points="812.6,647.6 828.4,649.8 844.2,650.5 860.0,650.9 875.8,650.9 891.6,651.2 907.4,652.0 923.2,653.1 939.0,653.8 954.8,654.9" fill="none" stroke="#888" stroke-width="1.2" stroke-linejoin="round"/>
<polyline points="812.6,647.6 828.4,649.0 844.2,649.4 860.0,649.8 875.8,649.8 891.6,650.1 907.4,650.5 923.2,650.7 939.0,651.2 954.8,651.6" fill="none" stroke="#888" stroke-width="1.2" stroke-linejoin="round"/>
<polyline points="812.6,647.6 828.4,647.6 844.2,647.6 860.0,647.2 875.8,646.8 891.6,646.3 907.4,646.1 923.2,645.7 939.0,645.0 954.8,644.6" fill="none" stroke="#888" stroke-width="1.2" stroke-linejoin="round"/>
<polyline points="812.6,647.6 828.4,646.1 844.2,645.0 860.0,643.9 875.8,641.7 891.6,640.6 907.4,638.8 923.2,638.0 939.0,636.6 954.8,635.5" fill="none" stroke="#888" stroke-width="1.2" stroke-linejoin="round"/>
<polyline points="812.6,647.6 828.4,635.1 844.2,632.2 860.0,630.3 875.8,627.8 891.6,625.2 907.4,622.6 923.2,616.8 939.0,614.6 954.8,609.4" fill="none" stroke="#888" stroke-width="1.2" stroke-linejoin="round"/>
<circle cx="812.6" cy="647.6" r="2.4" fill="#e8621e"/>
<circle cx="828.4" cy="649.8" r="2.4" fill="#e8621e"/>
<circle cx="844.2" cy="650.5" r="2.4" fill="#e8621e"/>
<circle cx="860.0" cy="650.9" r="2.4" fill="#e8621e"/>
<circle cx="875.8" cy="650.9" r="2.4" fill="#e8621e"/>
<circle cx="891.6" cy="651.2" r="2.4" fill="#e8621e"/>
<circle cx="907.4" cy="652.0" r="2.4" fill="#e8621e"/>
<circle cx="923.2" cy="653.1" r="2.4" fill="#e8621e"/>
<circle cx="939.0" cy="653.8" r="2.4" fill="#e8621e"/>
<circle cx="954.8" cy="654.9" r="2.4" fill="#e8621e"/>
<circle cx="812.6" cy="647.6" r="2.4" fill="#f0a050"/>
<circle cx="828.4" cy="649.0" r="2.4" fill="#f0a050"/>
<circle cx="844.2" cy="649.4" r="2.4" fill="#f0a050"/>
<circle cx="860.0" cy="649.8" r="2.4" fill="#f0a050"/>
<circle cx="875.8" cy="649.8" r="2.4" fill="#f0a050"/>
<circle cx="891.6" cy="650.1" r="2.4" fill="#f0a050"/>
<circle cx="907.4" cy="650.5" r="2.4" fill="#f0a050"/>
<circle cx="923.2" cy="650.7" r="2.4" fill="#f0a050"/>
<circle cx="939.0" cy="651.2" r="2.4" fill="#f0a050"/>
<circle cx="954.8" cy="651.6" r="2.4" fill="#f0a050"/>
<circle cx="812.6" cy="647.6" r="2.4" fill="#4f97e8"/>
<circle cx="828.4" cy="647.6" r="2.4" fill="#4f97e8"/>
<circle cx="844.2" cy="647.6" r="2.4" fill="#4f97e8"/>
<circle cx="860.0" cy="647.2" r="2.4" fill="#4f97e8"/>
<circle cx="875.8" cy="646.8" r="2.4" fill="#4f97e8"/>
<circle cx="891.6" cy="646.3" r="2.4" fill="#4f97e8"/>
<circle cx="907.4" cy="646.1" r="2.4" fill="#4f97e8"/>
<circle cx="923.2" cy="645.7" r="2.4" fill="#4f97e8"/>
<circle cx="939.0" cy="645.0" r="2.4" fill="#4f97e8"/>
<circle cx="954.8" cy="644.6" r="2.4" fill="#4f97e8"/>
<circle cx="812.6" cy="647.6" r="2.4" fill="#8fe88f"/>
<circle cx="828.4" cy="646.1" r="2.4" fill="#8fe88f"/>
<circle cx="844.2" cy="645.0" r="2.4" fill="#8fe88f"/>
<circle cx="860.0" cy="643.9" r="2.4" fill="#8fe88f"/>
<circle cx="875.8" cy="641.7" r="2.4" fill="#8fe88f"/>
<circle cx="891.6" cy="640.6" r="2.4" fill="#8fe88f"/>
<circle cx="907.4" cy="638.8" r="2.4" fill="#8fe88f"/>
<circle cx="923.2" cy="638.0" r="2.4" fill="#8fe88f"/>
<circle cx="939.0" cy="636.6" r="2.4" fill="#8fe88f"/>
<circle cx="954.8" cy="635.5" r="2.4" fill="#8fe88f"/>
<circle cx="812.6" cy="647.6" r="2.4" fill="#9a9a9a"/>
<circle cx="828.4" cy="635.1" r="2.4" fill="#9a9a9a"/>
<circle cx="844.2" cy="632.2" r="2.4" fill="#9a9a9a"/>
<circle cx="860.0" cy="630.3" r="2.4" fill="#9a9a9a"/>
<circle cx="875.8" cy="627.8" r="2.4" fill="#9a9a9a"/>
<circle cx="891.6" cy="625.2" r="2.4" fill="#9a9a9a"/>
<circle cx="907.4" cy="622.6" r="2.4" fill="#9a9a9a"/>
<circle cx="923.2" cy="616.8" r="2.4" fill="#9a9a9a"/>
<circle cx="939.0" cy="614.6" r="2.4" fill="#9a9a9a"/>
<circle cx="954.8" cy="609.4" r="2.4" fill="#9a9a9a"/>
<path d="M973.6,608.7 L978,608.7 L978,635.8 L973.6,635.8" fill="none" stroke="#333" stroke-width="1.3"/>
<path d="M965.3,635.8 L968.8,635.8 L968.8,652 L965.3,652" fill="none" stroke="#333" stroke-width="1.3"/>
<path d="M956,643.9 L960.4,643.9 L960.4,655.3 L956,655.3" fill="none" stroke="#333" stroke-width="1.3"/>
<circle cx="983.5" cy="625.2" r="0.9" fill="#333"/>
<circle cx="986.0" cy="625.2" r="0.9" fill="#333"/>
<circle cx="973.2" cy="642.8" r="0.9" fill="#333"/>
<circle cx="963.7" cy="649.0" r="0.9" fill="#333"/>
<line x1="985.5" y1="556.3" x2="989.0" y2="556.3" stroke="#333" stroke-width="1.2"/></g>
<g id="illus"><g><ellipse cx="144" cy="465" rx="36" ry="33" fill="#e8a3a6"/>
<path d="M155.1,427.0 L152.8,433.9 L151.0,437.2 L147.0,440.9 L144.1,440.2 L136.8,440.5 L133.6,437.5 L130.2,435.8 L128.1,432.2 L130.0,424.9 L129.5,423.3 L135.2,417.4 L137.0,416.5 L140.9,416.1 L147.1,416.8 L150.0,419.4 L153.1,422.8 Z" fill="#f3c4c6" stroke="#e8aeb1" stroke-width="0.8"/>
<path d="M180.5,438.6 L178.3,439.7 L175.3,447.4 L171.0,449.0 L166.5,450.8 L161.7,449.2 L157.5,447.8 L152.3,443.7 L151.5,437.3 L152.3,434.3 L153.8,431.4 L157.3,425.8 L161.0,422.4 L167.0,422.5 L170.4,424.6 L174.9,427.2 L179.7,431.2 Z" fill="#f3c4c6" stroke="#e8aeb1" stroke-width="0.8"/>
<path d="M118.0,448.1 L117.5,453.0 L114.0,456.8 L113.2,459.4 L107.9,460.3 L101.1,459.9 L97.9,457.8 L96.1,454.6 L93.4,450.8 L93.8,446.6 L96.8,442.6 L99.4,438.7 L102.3,438.5 L108.4,437.3 L112.4,438.0 L116.0,441.0 L117.6,444.1 Z" fill="#f3c4c6" stroke="#e8aeb1" stroke-width="0.8"/>
<path d="M194.3,463.9 L193.8,468.2 L192.9,470.9 L187.8,475.6 L184.1,475.2 L181.0,474.9 L178.6,473.5 L174.6,471.7 L172.5,465.7 L173.9,461.9 L174.1,459.3 L177.7,455.0 L182.3,454.6 L185.4,453.5 L188.7,455.4 L191.5,457.7 L195.3,461.9 Z" fill="#f3c4c6" stroke="#e8aeb1" stroke-width="0.8"/>
<path d="M124.5,484.5 L123.5,489.9 L120.7,493.7 L118.6,494.2 L111.0,496.8 L107.0,494.8 L104.4,493.6 L100.7,490.5 L100.2,487.9 L98.3,482.4 L102.0,477.0 L105.3,474.0 L108.7,472.6 L110.7,470.8 L115.9,472.9 L122.5,476.6 L123.7,478.4 Z" fill="#f3c4c6" stroke="#e8aeb1" stroke-width="0.8"/>
<path d="M146.5,500.7 L144.6,503.8 L144.1,506.6 L139.3,511.1 L135.1,512.4 L130.7,512.3 L125.3,508.8 L122.4,506.1 L121.3,502.9 L121.8,496.2 L123.1,491.8 L127.1,489.1 L128.3,487.4 L135.7,487.3 L137.4,488.3 L142.7,491.7 L145.7,496.6 Z" fill="#f3c4c6" stroke="#e8aeb1" stroke-width="0.8"/>
<path d="M172.8,494.8 L171.7,500.5 L169.9,504.3 L167.8,506.4 L163.4,508.2 L158.6,507.7 L152.3,506.8 L150.5,503.3 L146.4,497.6 L147.7,492.8 L151.0,487.6 L153.8,484.6 L155.8,484.0 L160.9,481.6 L165.2,483.0 L170.3,487.2 L171.9,491.2 Z" fill="#f3c4c6" stroke="#e8aeb1" stroke-width="0.8"/>
<path d="M115.2,465.1 L114.5,468.8 L112.2,471.8 L107.1,475.5 L104.5,476.4 L101.3,476.1 L98.2,475.4 L96.2,472.3 L94.4,469.3 L93.0,464.3 L95.4,461.1 L96.5,457.5 L99.8,456.2 L104.6,455.2 L108.3,456.1 L111.9,458.8 L114.3,463.4 Z" fill="#f3c4c6" stroke="#e8aeb1" stroke-width="0.8"/>
<path d="M135.3,435.4 L135.8,438.6 L133.6,441.9 L127.6,445.6 L124.9,447.2 L122.4,446.7 L116.6,444.2 L114.4,440.6 L113.6,438.3 L111.9,433.2 L114.0,428.9 L116.5,426.2 L119.7,425.2 L125.7,423.7 L128.6,425.8 L131.6,427.6 L134.9,430.4 Z" fill="#f3c4c6" stroke="#e8aeb1" stroke-width="0.8"/>
<path d="M137.7,445.4 L136.7,450.3 L134.3,452.9 L127.6,457.7 L123.4,456.7 L118.4,457.5 L115.5,454.2 L110.6,447.2 L110.5,444.9 L112.1,437.1 L113.6,434.0 L119.6,430.6 L122.0,429.9 L126.9,431.3 L132.7,432.8 L136.4,437.5 Z" fill="#eaa5a8" stroke="#db9196" stroke-width="0.8"/>
<path d="M178.9,444.8 L177.1,452.4 L175.6,456.1 L168.3,460.2 L164.0,460.2 L160.6,460.1 L154.2,455.6 L150.8,450.5 L150.6,447.4 L151.1,438.5 L154.8,434.8 L156.8,434.1 L164.0,432.7 L171.2,434.0 L173.6,434.5 L177.6,438.8 Z" fill="#eaa5a8" stroke="#db9196" stroke-width="0.8"/>
<path d="M187.4,468.0 L188.9,469.8 L184.7,474.1 L179.6,478.2 L173.8,478.7 L168.9,477.2 L165.2,475.8 L162.2,470.9 L163.3,465.5 L163.8,459.9 L166.1,458.1 L171.6,453.7 L177.1,452.8 L182.0,455.0 L185.2,457.5 L187.8,460.0 Z" fill="#eaa5a8" stroke="#db9196" stroke-width="0.8"/>
<path d="M123.0,471.3 L119.8,475.4 L118.0,478.8 L113.8,480.8 L110.4,482.3 L105.3,481.8 L101.9,479.2 L97.1,473.7 L95.7,469.4 L97.9,465.4 L100.7,459.4 L104.7,457.0 L111.0,456.9 L115.0,458.2 L118.8,460.3 L120.1,464.2 Z" fill="#eaa5a8" stroke="#db9196" stroke-width="0.8"/>
<path d="M134.7,489.7 L134.5,492.7 L131.6,496.8 L128.3,499.8 L123.4,501.2 L116.5,500.1 L113.3,498.0 L111.2,491.6 L109.2,488.8 L111.5,483.6 L112.5,480.3 L115.9,478.0 L123.3,477.6 L126.0,477.9 L130.5,480.7 L134.4,485.4 Z" fill="#eaa5a8" stroke="#db9196" stroke-width="0.8"/>
<path d="M168.2,488.3 L164.9,495.5 L161.9,500.5 L160.6,502.3 L153.7,502.9 L147.4,502.6 L143.4,500.6 L138.8,493.1 L138.0,487.6 L140.6,482.4 L142.1,479.1 L145.1,475.3 L153.3,475.3 L158.5,475.8 L161.5,478.3 L165.1,483.6 Z" fill="#eaa5a8" stroke="#db9196" stroke-width="0.8"/>
<path d="M156.4,432.8 L156.7,435.3 L155.1,439.0 L149.1,441.7 L145.4,443.0 L141.0,442.7 L137.3,438.5 L135.0,435.3 L135.9,430.6 L136.9,426.7 L137.3,425.0 L142.6,420.7 L145.5,420.4 L148.9,420.5 L153.3,423.7 L154.9,427.1 Z" fill="#eaa5a8" stroke="#db9196" stroke-width="0.8"/>
<path d="M162.4,446.1 L160.6,450.4 L155.1,459.3 L152.5,459.9 L143.0,461.1 L140.3,461.3 L134.8,456.8 L131.3,448.9 L132.6,441.3 L134.9,437.4 L140.9,432.8 L144.7,430.4 L152.3,433.2 L158.3,435.7 L160.4,439.1 Z" fill="#e5989c" stroke="#cd7a80" stroke-width="0.9"/>
<path d="M151.1,448.3 L150.4,451.1 L146.5,452.3 L141.9,452.1 L139.9,449.5 L140.3,447.5 L142.1,444.8 L145.7,444.1 L149.1,445.7 Z" fill="#cc7078"/>
<path d="M136.2,456.2 L136.8,460.9 L132.4,466.7 L127.5,468.8 L121.4,469.5 L116.1,467.5 L112.6,463.1 L111.9,460.4 L111.8,453.2 L113.4,448.3 L115.5,445.9 L120.4,443.3 L128.7,445.2 L133.3,447.3 L135.2,449.9 Z" fill="#e5989c" stroke="#cd7a80" stroke-width="0.9"/>
<path d="M133.3,457.0 L131.4,459.7 L129.0,461.2 L125.1,460.4 L122.8,458.4 L122.1,456.0 L125.4,453.0 L128.8,453.2 L131.4,454.6 Z" fill="#cc7078"/>
<path d="M175.2,463.5 L174.8,467.5 L171.0,474.1 L164.9,475.7 L161.4,475.8 L156.6,475.4 L153.0,472.1 L148.8,465.3 L148.6,461.3 L152.8,454.6 L156.5,450.2 L160.4,450.1 L168.2,451.0 L169.8,452.4 L175.6,458.7 Z" fill="#e5989c" stroke="#cd7a80" stroke-width="0.9"/>
<path d="M170.9,462.5 L169.4,464.8 L167.1,466.5 L163.4,465.6 L160.3,464.0 L161.6,460.3 L162.7,458.7 L167.1,457.7 L170.2,459.2 Z" fill="#cc7078"/>
<path d="M127.9,475.1 L127.0,481.2 L123.0,488.1 L118.4,490.0 L114.5,490.6 L107.3,489.7 L102.4,485.2 L101.3,480.0 L100.4,472.6 L103.3,469.8 L107.2,465.1 L113.7,463.1 L118.3,463.8 L122.2,467.2 L126.4,469.4 Z" fill="#e5989c" stroke="#cd7a80" stroke-width="0.9"/>
<path d="M122.5,477.9 L121.0,481.0 L119.0,482.2 L115.4,481.4 L112.2,479.9 L112.2,476.2 L113.8,474.3 L118.8,474.3 L121.5,475.0 Z" fill="#cc7078"/>
<path d="M152.8,472.3 L150.2,479.7 L148.1,482.0 L143.8,485.0 L138.2,487.2 L128.9,484.4 L126.9,481.5 L124.2,474.8 L123.1,471.5 L127.4,464.3 L129.9,461.8 L138.7,459.0 L143.5,458.2 L146.2,460.9 L152.2,466.4 Z" fill="#e5989c" stroke="#cd7a80" stroke-width="0.9"/>
<path d="M142.3,472.0 L141.5,474.9 L138.6,476.4 L133.3,475.7 L131.7,472.9 L131.4,470.2 L133.0,468.3 L137.5,467.7 L140.6,468.8 Z" fill="#cc7078"/>
<path d="M159.9,488.6 L159.1,493.4 L156.0,497.8 L151.1,501.5 L145.6,503.7 L141.1,502.4 L135.7,499.1 L133.3,491.3 L132.9,485.1 L134.4,483.0 L139.8,476.5 L143.6,476.5 L151.9,476.0 L153.7,478.9 L158.9,485.0 Z" fill="#e5989c" stroke="#cd7a80" stroke-width="0.9"/>
<path d="M150.2,486.9 L148.8,489.9 L145.9,491.1 L142.4,490.8 L140.3,487.8 L140.2,485.6 L142.4,483.2 L145.2,483.4 L149.7,484.1 Z" fill="#cc7078"/>
<path d="M145.4,428.2 L144.9,429.8 L141.5,430.5 L137.5,429.8 L136.2,428.3 L137.3,426.0 L140.2,425.2 L144.2,425.9 Z" fill="#e2aab0"/>
<circle cx="137.7" cy="470.3" r="0.5" fill="#c27077"/>
<circle cx="148.1" cy="474.5" r="0.5" fill="#c27077"/>
<circle cx="144.6" cy="456.5" r="0.5" fill="#c27077"/>
<circle cx="124.7" cy="483.4" r="0.5" fill="#c27077"/>
<circle cx="109.4" cy="457.4" r="0.5" fill="#c27077"/>
<circle cx="128.0" cy="467.1" r="0.5" fill="#c27077"/>
<circle cx="137.8" cy="460.6" r="0.5" fill="#c27077"/>
<circle cx="155.6" cy="457.8" r="0.5" fill="#c27077"/>
<circle cx="124.2" cy="482.8" r="0.5" fill="#c27077"/>
<circle cx="158.5" cy="486.5" r="0.5" fill="#c27077"/>
<circle cx="151.6" cy="455.6" r="0.5" fill="#c27077"/>
<circle cx="163.0" cy="459.4" r="0.5" fill="#c27077"/>
<circle cx="146.7" cy="448.4" r="0.5" fill="#c27077"/>
<circle cx="135.6" cy="471.9" r="0.5" fill="#c27077"/>
<circle cx="151.7" cy="466.4" r="0.5" fill="#c27077"/>
<circle cx="164.3" cy="464.7" r="0.5" fill="#c27077"/>
<circle cx="110.8" cy="474.1" r="0.5" fill="#c27077"/>
<circle cx="114.7" cy="443.2" r="0.5" fill="#c27077"/>
<circle cx="138.9" cy="472.4" r="0.5" fill="#c27077"/>
<circle cx="149.4" cy="463.1" r="0.5" fill="#c27077"/>
<circle cx="149.9" cy="444.2" r="0.5" fill="#c27077"/>
<circle cx="179.7" cy="462.2" r="0.5" fill="#c27077"/>
<circle cx="143.2" cy="464.8" r="0.5" fill="#c27077"/>
<circle cx="161.8" cy="468.6" r="0.5" fill="#c27077"/>
<circle cx="145.3" cy="463.2" r="0.5" fill="#c27077"/>
<circle cx="141.1" cy="467.5" r="0.5" fill="#c27077"/>
<circle cx="143.9" cy="466.2" r="0.5" fill="#c27077"/>
<circle cx="134.5" cy="483.4" r="0.5" fill="#c27077"/>
<circle cx="153.1" cy="494.5" r="0.5" fill="#c27077"/>
<circle cx="151.6" cy="468.7" r="0.5" fill="#c27077"/>
<circle cx="143.3" cy="481.3" r="0.5" fill="#c27077"/>
<circle cx="145.2" cy="452.6" r="0.5" fill="#c27077"/>
<circle cx="132.1" cy="433.0" r="0.5" fill="#c27077"/>
<circle cx="166.3" cy="490.1" r="0.5" fill="#c27077"/>
<circle cx="121.0" cy="449.4" r="0.5" fill="#c27077"/>
<circle cx="131.9" cy="456.3" r="0.5" fill="#c27077"/>
<circle cx="148.5" cy="469.1" r="0.5" fill="#c27077"/>
<circle cx="147.1" cy="472.0" r="0.5" fill="#c27077"/>
<circle cx="148.8" cy="472.2" r="0.5" fill="#c27077"/>
<circle cx="116.8" cy="455.1" r="0.5" fill="#c27077"/>
<circle cx="153.5" cy="435.3" r="0.5" fill="#c27077"/>
<circle cx="167.2" cy="487.0" r="0.5" fill="#c27077"/>
<circle cx="145.1" cy="468.5" r="0.5" fill="#c27077"/>
<circle cx="138.8" cy="487.6" r="0.5" fill="#c27077"/>
<circle cx="151.9" cy="468.4" r="0.5" fill="#c27077"/>
<circle cx="118.8" cy="484.5" r="0.5" fill="#c27077"/>
<circle cx="131.3" cy="475.3" r="0.5" fill="#c27077"/>
<circle cx="141.6" cy="468.6" r="0.5" fill="#c27077"/>
<circle cx="169.5" cy="441.9" r="0.5" fill="#c27077"/>
<circle cx="141.3" cy="451.1" r="0.5" fill="#c27077"/>
<circle cx="132.9" cy="470.1" r="0.5" fill="#c27077"/>
<circle cx="130.0" cy="445.5" r="0.5" fill="#c27077"/>
<circle cx="131.6" cy="496.8" r="0.5" fill="#c27077"/>
<circle cx="142.5" cy="457.8" r="0.5" fill="#c27077"/>
<circle cx="153.3" cy="442.1" r="0.5" fill="#c27077"/>
<circle cx="144.0" cy="477.3" r="0.5" fill="#c27077"/>
<circle cx="144.0" cy="463.0" r="0.5" fill="#c27077"/>
<circle cx="110.1" cy="479.9" r="0.5" fill="#c27077"/>
<circle cx="143.3" cy="485.1" r="0.5" fill="#c27077"/>
<circle cx="171.7" cy="447.7" r="0.5" fill="#c27077"/></g>
<text x="141.6" y="469.2" font-size="17.2" font-weight="bold" fill="#f5f000" text-anchor="middle" textLength="43.8" lengthAdjust="spacingAndGlyphs">αvβ3</text>
<clipPath id="clc2"><rect x="335" y="398.5" width="130" height="102"/></clipPath>
<g clip-path="url(#clc2)"><ellipse cx="399" cy="463.5" rx="36" ry="33" fill="#e8a3a6"/>
<path d="M410.1,425.5 L407.8,432.4 L406.0,435.7 L402.0,439.4 L399.1,438.7 L391.8,439.0 L388.6,436.0 L385.2,434.3 L383.1,430.7 L385.0,423.4 L384.5,421.8 L390.2,415.9 L392.0,415.0 L395.9,414.6 L402.1,415.3 L405.0,417.9 L408.1,421.3 Z" fill="#f3c4c6" stroke="#e8aeb1" stroke-width="0.8"/>
<path d="M435.5,437.1 L433.3,438.2 L430.3,445.9 L426.0,447.5 L421.5,449.3 L416.7,447.7 L412.5,446.3 L407.3,442.2 L406.5,435.8 L407.3,432.8 L408.8,429.9 L412.3,424.3 L416.0,420.9 L422.0,421.0 L425.4,423.1 L429.9,425.7 L434.7,429.7 Z" fill="#f3c4c6" stroke="#e8aeb1" stroke-width="0.8"/>
<path d="M373.0,446.6 L372.5,451.5 L369.0,455.3 L368.2,457.9 L362.9,458.8 L356.1,458.4 L352.9,456.3 L351.1,453.1 L348.4,449.3 L348.8,445.1 L351.8,441.1 L354.4,437.2 L357.3,437.0 L363.4,435.8 L367.4,436.5 L371.0,439.5 L372.6,442.6 Z" fill="#f3c4c6" stroke="#e8aeb1" stroke-width="0.8"/>
<path d="M449.3,462.4 L448.8,466.7 L447.9,469.4 L442.8,474.1 L439.1,473.7 L436.0,473.4 L433.6,472.0 L429.6,470.2 L427.5,464.2 L428.9,460.4 L429.1,457.8 L432.7,453.5 L437.3,453.1 L440.4,452.0 L443.7,453.9 L446.5,456.2 L450.3,460.4 Z" fill="#f3c4c6" stroke="#e8aeb1" stroke-width="0.8"/>
<path d="M379.5,483.0 L378.5,488.4 L375.7,492.2 L373.6,492.7 L366.0,495.3 L362.0,493.3 L359.4,492.1 L355.7,489.0 L355.2,486.4 L353.3,480.9 L357.0,475.5 L360.3,472.5 L363.7,471.1 L365.7,469.3 L370.9,471.4 L377.5,475.1 L378.7,476.9 Z" fill="#f3c4c6" stroke="#e8aeb1" stroke-width="0.8"/>
<path d="M401.5,499.2 L399.6,502.3 L399.1,505.1 L394.3,509.6 L390.1,510.9 L385.7,510.8 L380.3,507.3 L377.4,504.6 L376.3,501.4 L376.8,494.7 L378.1,490.3 L382.1,487.6 L383.3,485.9 L390.7,485.8 L392.4,486.8 L397.7,490.2 L400.7,495.1 Z" fill="#f3c4c6" stroke="#e8aeb1" stroke-width="0.8"/>
<path d="M427.8,493.3 L426.7,499.0 L424.9,502.8 L422.8,504.9 L418.4,506.7 L413.6,506.2 L407.3,505.3 L405.5,501.8 L401.4,496.1 L402.7,491.3 L406.0,486.1 L408.8,483.1 L410.8,482.5 L415.9,480.1 L420.2,481.5 L425.3,485.7 L426.9,489.7 Z" fill="#f3c4c6" stroke="#e8aeb1" stroke-width="0.8"/>
<path d="M370.2,463.6 L369.5,467.3 L367.2,470.3 L362.1,474.0 L359.5,474.9 L356.3,474.6 L353.2,473.9 L351.2,470.8 L349.4,467.8 L348.0,462.8 L350.4,459.6 L351.5,456.0 L354.8,454.7 L359.6,453.7 L363.3,454.6 L366.9,457.3 L369.3,461.9 Z" fill="#f3c4c6" stroke="#e8aeb1" stroke-width="0.8"/>
<path d="M390.3,433.9 L390.8,437.1 L388.6,440.4 L382.6,444.1 L379.9,445.7 L377.4,445.2 L371.6,442.7 L369.4,439.1 L368.6,436.8 L366.9,431.7 L369.0,427.4 L371.5,424.7 L374.7,423.7 L380.7,422.2 L383.6,424.3 L386.6,426.1 L389.9,428.9 Z" fill="#f3c4c6" stroke="#e8aeb1" stroke-width="0.8"/>
<path d="M392.7,443.9 L391.7,448.8 L389.3,451.4 L382.6,456.2 L378.4,455.2 L373.4,456.0 L370.5,452.7 L365.6,445.7 L365.5,443.4 L367.1,435.6 L368.6,432.5 L374.6,429.1 L377.0,428.4 L381.9,429.8 L387.7,431.3 L391.4,436.0 Z" fill="#eaa5a8" stroke="#db9196" stroke-width="0.8"/>
<path d="M433.9,443.3 L432.1,450.9 L430.6,454.6 L423.3,458.7 L419.0,458.7 L415.6,458.6 L409.2,454.1 L405.8,449.0 L405.6,445.9 L406.1,437.0 L409.8,433.3 L411.8,432.6 L419.0,431.2 L426.2,432.5 L428.6,433.0 L432.6,437.3 Z" fill="#eaa5a8" stroke="#db9196" stroke-width="0.8"/>
<path d="M442.4,466.5 L443.9,468.3 L439.7,472.6 L434.6,476.7 L428.8,477.2 L423.9,475.7 L420.2,474.3 L417.2,469.4 L418.3,464.0 L418.8,458.4 L421.1,456.6 L426.6,452.2 L432.1,451.3 L437.0,453.5 L440.2,456.0 L442.8,458.5 Z" fill="#eaa5a8" stroke="#db9196" stroke-width="0.8"/>
<path d="M378.0,469.8 L374.8,473.9 L373.0,477.3 L368.8,479.3 L365.4,480.8 L360.3,480.3 L356.9,477.7 L352.1,472.2 L350.7,467.9 L352.9,463.9 L355.7,457.9 L359.7,455.5 L366.0,455.4 L370.0,456.7 L373.8,458.8 L375.1,462.7 Z" fill="#eaa5a8" stroke="#db9196" stroke-width="0.8"/>
<path d="M389.7,488.2 L389.5,491.2 L386.6,495.3 L383.3,498.3 L378.4,499.7 L371.5,498.6 L368.3,496.5 L366.2,490.1 L364.2,487.3 L366.5,482.1 L367.5,478.8 L370.9,476.5 L378.3,476.1 L381.0,476.4 L385.5,479.2 L389.4,483.9 Z" fill="#eaa5a8" stroke="#db9196" stroke-width="0.8"/>
<path d="M423.2,486.8 L419.9,494.0 L416.9,499.0 L415.6,500.8 L408.7,501.4 L402.4,501.1 L398.4,499.1 L393.8,491.6 L393.0,486.1 L395.6,480.9 L397.1,477.6 L400.1,473.8 L408.3,473.8 L413.5,474.3 L416.5,476.8 L420.1,482.1 Z" fill="#eaa5a8" stroke="#db9196" stroke-width="0.8"/>
<path d="M411.4,431.3 L411.7,433.8 L410.1,437.5 L404.1,440.2 L400.4,441.5 L396.0,441.2 L392.3,437.0 L390.0,433.8 L390.9,429.1 L391.9,425.2 L392.3,423.5 L397.6,419.2 L400.5,418.9 L403.9,419.0 L408.3,422.2 L409.9,425.6 Z" fill="#eaa5a8" stroke="#db9196" stroke-width="0.8"/>
<path d="M417.4,444.6 L415.6,448.9 L410.1,457.8 L407.5,458.4 L398.0,459.6 L395.3,459.8 L389.8,455.3 L386.3,447.4 L387.6,439.8 L389.9,435.9 L395.9,431.3 L399.7,428.9 L407.3,431.7 L413.3,434.2 L415.4,437.6 Z" fill="#e5989c" stroke="#cd7a80" stroke-width="0.9"/>
<path d="M406.1,446.8 L405.4,449.6 L401.5,450.8 L396.9,450.6 L394.9,448.0 L395.3,446.0 L397.1,443.3 L400.7,442.6 L404.1,444.2 Z" fill="#cc7078"/>
<path d="M391.2,454.7 L391.8,459.4 L387.4,465.2 L382.5,467.3 L376.4,468.0 L371.1,466.0 L367.6,461.6 L366.9,458.9 L366.8,451.7 L368.4,446.8 L370.5,444.4 L375.4,441.8 L383.7,443.7 L388.3,445.8 L390.2,448.4 Z" fill="#e5989c" stroke="#cd7a80" stroke-width="0.9"/>
<path d="M388.3,455.5 L386.4,458.2 L384.0,459.7 L380.1,458.9 L377.8,456.9 L377.1,454.5 L380.4,451.5 L383.8,451.7 L386.4,453.1 Z" fill="#cc7078"/>
<path d="M430.2,462.0 L429.8,466.0 L426.0,472.6 L419.9,474.2 L416.4,474.3 L411.6,473.9 L408.0,470.6 L403.8,463.8 L403.6,459.8 L407.8,453.1 L411.5,448.7 L415.4,448.6 L423.2,449.5 L424.8,450.9 L430.6,457.2 Z" fill="#e5989c" stroke="#cd7a80" stroke-width="0.9"/>
<path d="M425.9,461.0 L424.4,463.3 L422.1,465.0 L418.4,464.1 L415.3,462.5 L416.6,458.8 L417.7,457.2 L422.1,456.2 L425.2,457.7 Z" fill="#cc7078"/>
<path d="M382.9,473.6 L382.0,479.7 L378.0,486.6 L373.4,488.5 L369.5,489.1 L362.3,488.2 L357.4,483.7 L356.3,478.5 L355.4,471.1 L358.3,468.3 L362.2,463.6 L368.7,461.6 L373.3,462.3 L377.2,465.7 L381.4,467.9 Z" fill="#e5989c" stroke="#cd7a80" stroke-width="0.9"/>
<path d="M377.5,476.4 L376.0,479.5 L374.0,480.7 L370.4,479.9 L367.2,478.4 L367.2,474.7 L368.8,472.8 L373.8,472.8 L376.5,473.5 Z" fill="#cc7078"/>
<path d="M407.8,470.8 L405.2,478.2 L403.1,480.5 L398.8,483.5 L393.2,485.7 L383.9,482.9 L381.9,480.0 L379.2,473.3 L378.1,470.0 L382.4,462.8 L384.9,460.3 L393.7,457.5 L398.5,456.7 L401.2,459.4 L407.2,464.9 Z" fill="#e5989c" stroke="#cd7a80" stroke-width="0.9"/>
<path d="M397.3,470.5 L396.5,473.4 L393.6,474.9 L388.3,474.2 L386.7,471.4 L386.4,468.7 L388.0,466.8 L392.5,466.2 L395.6,467.3 Z" fill="#cc7078"/>
<path d="M414.9,487.1 L414.1,491.9 L411.0,496.3 L406.1,500.0 L400.6,502.2 L396.1,500.9 L390.7,497.6 L388.3,489.8 L387.9,483.6 L389.4,481.5 L394.8,475.0 L398.6,475.0 L406.9,474.5 L408.7,477.4 L413.9,483.5 Z" fill="#e5989c" stroke="#cd7a80" stroke-width="0.9"/>
<path d="M405.2,485.4 L403.8,488.4 L400.9,489.6 L397.4,489.3 L395.3,486.3 L395.2,484.1 L397.4,481.7 L400.2,481.9 L404.7,482.6 Z" fill="#cc7078"/>
<path d="M400.4,426.7 L399.9,428.3 L396.5,429.0 L392.5,428.3 L391.2,426.8 L392.3,424.5 L395.2,423.7 L399.2,424.4 Z" fill="#e2aab0"/>
<circle cx="392.7" cy="468.8" r="0.5" fill="#c27077"/>
<circle cx="403.1" cy="473.0" r="0.5" fill="#c27077"/>
<circle cx="399.6" cy="455.0" r="0.5" fill="#c27077"/>
<circle cx="379.7" cy="481.9" r="0.5" fill="#c27077"/>
<circle cx="364.4" cy="455.9" r="0.5" fill="#c27077"/>
<circle cx="383.0" cy="465.6" r="0.5" fill="#c27077"/>
<circle cx="392.8" cy="459.1" r="0.5" fill="#c27077"/>
<circle cx="410.6" cy="456.3" r="0.5" fill="#c27077"/>
<circle cx="379.2" cy="481.3" r="0.5" fill="#c27077"/>
<circle cx="413.5" cy="485.0" r="0.5" fill="#c27077"/>
<circle cx="406.6" cy="454.1" r="0.5" fill="#c27077"/>
<circle cx="418.0" cy="457.9" r="0.5" fill="#c27077"/>
<circle cx="401.7" cy="446.9" r="0.5" fill="#c27077"/>
<circle cx="390.6" cy="470.4" r="0.5" fill="#c27077"/>
<circle cx="406.7" cy="464.9" r="0.5" fill="#c27077"/>
<circle cx="419.3" cy="463.2" r="0.5" fill="#c27077"/>
<circle cx="365.8" cy="472.6" r="0.5" fill="#c27077"/>
<circle cx="369.7" cy="441.7" r="0.5" fill="#c27077"/>
<circle cx="393.9" cy="470.9" r="0.5" fill="#c27077"/>
<circle cx="404.4" cy="461.6" r="0.5" fill="#c27077"/>
<circle cx="404.9" cy="442.7" r="0.5" fill="#c27077"/>
<circle cx="434.7" cy="460.7" r="0.5" fill="#c27077"/>
<circle cx="398.2" cy="463.3" r="0.5" fill="#c27077"/>
<circle cx="416.8" cy="467.1" r="0.5" fill="#c27077"/>
<circle cx="400.3" cy="461.7" r="0.5" fill="#c27077"/>
<circle cx="396.1" cy="466.0" r="0.5" fill="#c27077"/>
<circle cx="398.9" cy="464.7" r="0.5" fill="#c27077"/>
<circle cx="389.5" cy="481.9" r="0.5" fill="#c27077"/>
<circle cx="408.1" cy="493.0" r="0.5" fill="#c27077"/>
<circle cx="406.6" cy="467.2" r="0.5" fill="#c27077"/>
<circle cx="398.3" cy="479.8" r="0.5" fill="#c27077"/>
<circle cx="400.2" cy="451.1" r="0.5" fill="#c27077"/>
<circle cx="387.1" cy="431.5" r="0.5" fill="#c27077"/>
<circle cx="421.3" cy="488.6" r="0.5" fill="#c27077"/>
<circle cx="376.0" cy="447.9" r="0.5" fill="#c27077"/>
<circle cx="386.9" cy="454.8" r="0.5" fill="#c27077"/>
<circle cx="403.5" cy="467.6" r="0.5" fill="#c27077"/>
<circle cx="402.1" cy="470.5" r="0.5" fill="#c27077"/>
<circle cx="403.8" cy="470.7" r="0.5" fill="#c27077"/>
<circle cx="371.8" cy="453.6" r="0.5" fill="#c27077"/>
<circle cx="408.5" cy="433.8" r="0.5" fill="#c27077"/>
<circle cx="422.2" cy="485.5" r="0.5" fill="#c27077"/>
<circle cx="400.1" cy="467.0" r="0.5" fill="#c27077"/>
<circle cx="393.8" cy="486.1" r="0.5" fill="#c27077"/>
<circle cx="406.9" cy="466.9" r="0.5" fill="#c27077"/>
<circle cx="373.8" cy="483.0" r="0.5" fill="#c27077"/>
<circle cx="386.3" cy="473.8" r="0.5" fill="#c27077"/>
<circle cx="396.6" cy="467.1" r="0.5" fill="#c27077"/>
<circle cx="424.5" cy="440.4" r="0.5" fill="#c27077"/>
<circle cx="396.3" cy="449.6" r="0.5" fill="#c27077"/>
<circle cx="387.9" cy="468.6" r="0.5" fill="#c27077"/>
<circle cx="385.0" cy="444.0" r="0.5" fill="#c27077"/>
<circle cx="386.6" cy="495.3" r="0.5" fill="#c27077"/>
<circle cx="397.5" cy="456.3" r="0.5" fill="#c27077"/>
<circle cx="408.3" cy="440.6" r="0.5" fill="#c27077"/>
<circle cx="399.0" cy="475.8" r="0.5" fill="#c27077"/>
<circle cx="399.0" cy="461.5" r="0.5" fill="#c27077"/>
<circle cx="365.1" cy="478.4" r="0.5" fill="#c27077"/>
<circle cx="398.3" cy="483.6" r="0.5" fill="#c27077"/>
<circle cx="426.7" cy="446.2" r="0.5" fill="#c27077"/></g>
<text x="395.6" y="466.8" font-size="17.2" font-weight="normal" fill="#f3ef10" text-anchor="middle" textLength="40.3" lengthAdjust="spacingAndGlyphs">αvβ3</text>
<g transform="translate(395.7,487.5) rotate(45)"><path d="M-3.7,-13.2 L3.7,-13.2 L3.7,-3.7 L13.2,-3.7 L13.2,3.7 L3.7,3.7 L3.7,13.2 L-3.7,13.2 L-3.7,3.7 L-13.2,3.7 L-13.2,-3.7 L-3.7,-3.7 Z" fill="#ee1b1b" stroke="#111" stroke-width="1.6" stroke-linejoin="miter"/></g>
<g id="mouse"><path d="M769,494 L773,493.5 L774.5,498.5 L770,499.6 Z" fill="#f2aab0" stroke="#d98f97" stroke-width="0.5"/>
<path d="M704.5,480.0 C705.2,480.6 706.1,484.1 705.5,485.5 C704.9,486.9 702.6,487.8 701.0,488.5 C699.4,489.2 697.3,489.5 696.0,489.6 C694.7,489.7 693.4,489.5 693.0,489.0 C692.6,488.5 692.7,487.1 693.5,486.5 C694.3,485.9 696.7,486.2 698.0,485.5 C699.3,484.8 700.4,482.9 701.5,482.0 C702.6,481.1 703.8,479.4 704.5,480.0 Z" fill="#f2aab0" stroke="#d98f97" stroke-width="0.5"/>
<path d="M693.5,441.0 C692.2,440.1 693.8,437.3 694.5,436.0 C695.2,434.7 696.8,433.6 698.0,433.3 C699.2,433.1 700.6,433.6 701.5,434.5 C702.4,435.4 703.4,437.8 703.5,439.0 C703.6,440.2 703.7,441.2 702.0,441.5 C700.3,441.8 694.8,441.9 693.5,441.0 Z" fill="#d0d0d0" stroke="#c4c4c4" stroke-width="0.5"/>
<path d="M665.1,459.6 C665.2,458.2 666.4,456.0 667.5,454.5 C668.6,453.0 670.1,451.8 671.7,450.5 C673.3,449.2 675.2,448.1 677.0,447.0 C678.8,445.9 680.6,445.0 682.4,444.1 C684.2,443.2 686.2,442.2 688.0,441.6 C689.8,441.0 691.1,440.7 693.1,440.5 C695.1,440.3 697.4,440.5 700.0,440.6 C702.6,440.7 705.8,440.9 708.6,441.1 C711.4,441.3 714.0,441.7 717.0,442.0 C720.0,442.3 722.9,442.6 726.5,442.9 C730.1,443.2 735.0,443.8 738.4,443.6 C741.8,443.4 744.2,442.2 747.0,441.5 C749.8,440.8 752.8,440.1 755.0,439.5 C757.2,438.9 757.9,438.2 760.1,437.7 C762.3,437.2 765.3,436.6 768.0,436.3 C770.7,436.0 773.8,435.9 776.5,435.8 C779.2,435.8 781.5,435.8 784.0,436.0 C786.5,436.2 789.4,436.6 791.7,437.0 C794.0,437.4 796.1,437.7 798.0,438.2 C799.9,438.7 801.7,439.0 803.0,440.2 C804.3,441.4 804.9,442.7 805.6,445.2 C806.4,447.7 807.3,451.5 807.5,455.3 C807.7,459.1 807.3,464.2 806.8,468.0 C806.3,471.8 805.1,474.6 804.3,478.0 C803.5,481.4 802.8,485.4 801.8,488.1 C800.8,490.8 799.7,492.7 798.0,494.4 C796.3,496.1 794.2,497.3 791.7,498.2 C789.2,499.1 785.9,499.4 782.9,499.5 C779.9,499.6 777.1,499.8 774.0,498.9 C770.9,498.0 767.1,495.8 764.0,494.4 C760.9,493.0 758.3,491.8 755.1,490.7 C751.9,489.6 748.4,489.0 745.0,488.1 C741.6,487.2 738.1,486.2 735.0,485.5 C731.9,484.8 729.3,483.6 726.5,483.6 C723.7,483.6 720.4,484.5 718.0,485.5 C715.6,486.5 713.5,487.9 712.0,489.5 C710.5,491.1 710.0,494.3 709.0,495.3 C708.0,496.3 706.6,497.0 705.8,495.6 C705.0,494.2 704.7,489.9 704.0,487.0 C703.3,484.1 702.6,480.7 701.5,478.0 C700.4,475.3 699.2,472.1 697.5,471.0 C695.8,469.9 692.9,471.5 691.0,471.6 C689.1,471.7 687.8,471.8 686.0,471.6 C684.2,471.4 682.0,471.1 680.0,470.6 C678.0,470.1 675.8,469.5 674.0,468.6 C672.2,467.8 670.7,466.5 669.5,465.5 C668.3,464.5 667.3,463.6 666.6,462.6 C665.9,461.6 665.0,461.0 665.1,459.6 Z" fill="#f3f3f3" stroke="#c8c8c8" stroke-width="0.8"/>
<path d="M781.6,436.2 C779.7,438.4 782.2,446.7 780.3,450.3 C778.4,453.9 773.1,455.6 770.2,457.9 C767.3,460.2 764.4,461.7 762.7,464.2 C761.0,466.7 760.1,469.9 760.1,473.0 C760.1,476.1 761.4,479.9 762.7,483.1 C764.0,486.3 765.8,489.4 767.7,492.0 C769.6,494.6 771.5,497.4 774.0,498.6 C776.5,499.8 779.9,499.3 782.9,499.2 C785.9,499.1 789.2,498.8 791.7,497.9 C794.2,497.0 796.4,495.8 798.0,494.1 C799.6,492.5 800.6,490.7 801.6,488.0 C802.6,485.3 803.3,481.3 804.1,478.0 C804.9,474.7 806.0,471.8 806.5,468.0 C807.0,464.2 807.4,459.1 807.2,455.3 C807.0,451.5 806.0,447.7 805.3,445.2 C804.6,442.7 804.0,441.5 802.8,440.4 C801.6,439.3 799.9,439.0 798.0,438.5 C796.1,438.0 794.4,437.6 791.7,437.2 C789.0,436.8 783.5,434.0 781.6,436.2 Z" fill="#dadada"/>
<path d="M726.5,443.3 C728.3,442.4 735.2,444.4 740.0,443.9 C744.8,443.4 753.0,439.8 755.0,440.2 C757.0,440.6 753.5,444.2 752.0,446.0 C750.5,447.8 747.9,449.7 746.0,451.0 C744.1,452.3 743.0,453.0 740.8,453.6 C738.6,454.2 735.0,455.3 733.0,454.6 C731.0,453.9 730.1,451.4 729.0,449.5 C727.9,447.6 724.7,444.2 726.5,443.3 Z" fill="#d8d8d8"/>
<path d="M694.0,441.0 C695.0,440.4 701.5,440.4 704.0,441.2 C706.5,442.0 708.4,443.7 709.0,446.0 C709.6,448.3 708.2,452.2 707.5,455.0 C706.8,457.8 705.3,463.5 704.5,463.0 C703.7,462.5 703.6,455.1 702.5,452.0 C701.4,448.9 699.4,446.3 698.0,444.5 C696.6,442.7 693.0,441.6 694.0,441.0 Z" fill="#e2e2e2"/>
<path d="M672.0,466.5 C673.2,466.6 677.3,468.6 680.0,469.2 C682.7,469.8 685.3,470.2 688.0,470.0 C690.7,469.8 694.3,467.8 696.0,468.0 C697.7,468.2 699.0,470.4 698.0,471.0 C697.0,471.6 693.0,471.8 690.0,471.8 C687.0,471.8 682.8,471.5 680.0,471.0 C677.2,470.5 674.3,469.4 673.0,468.6 C671.7,467.9 670.8,466.4 672.0,466.5 Z" fill="#d9d9d9"/>
<ellipse cx="700.4" cy="452.6" rx="5.8" ry="8.6" transform="rotate(14 700.4 452.6)" fill="#e9e9e9"/>
<ellipse cx="699.1" cy="453.2" rx="4.3" ry="7.4" transform="rotate(14 699.1 453.2)" fill="#f2a7ae" stroke="#e0949c" stroke-width="0.5"/>
<ellipse cx="680.7" cy="454.6" rx="1.8" ry="1.4" fill="#c53d48"/>
<ellipse cx="665.5" cy="459.8" rx="1.2" ry="1.6" fill="#eb9aa2"/>
<path d="M669,462 C666,468 665,474 666,481 M670.5,463 C671,470 673,476 676.5,482 M668,457 C666,451 667,445 668.5,441 M667,458 C664,453 663,448 663.5,444" stroke="#d6d6d6" stroke-width="0.5" fill="none"/>
<path d="M708.8,494.5 C709.5,495.0 709.9,497.7 709.3,499.0 C708.7,500.3 706.7,501.6 705.0,502.5 C703.3,503.4 700.6,504.0 699.0,504.2 C697.4,504.4 695.9,504.1 695.5,503.6 C695.1,503.1 695.6,501.7 696.5,501.0 C697.4,500.3 699.6,500.3 701.0,499.5 C702.4,498.7 703.7,496.8 705.0,496.0 C706.3,495.2 708.1,494.0 708.8,494.5 Z" fill="#f2aab0" stroke="#d98f97" stroke-width="0.5"/>
<path d="M805.6,440.6 C807.3,439.3 812.3,434.2 815.7,432.6 C819.1,431.0 822.9,430.5 825.8,430.7 C828.7,430.9 831.4,431.5 833.3,433.9 C835.2,436.3 836.5,441.2 837.1,445.2 C837.7,449.2 837.7,453.7 837.1,457.9 C836.5,462.1 835.2,466.7 833.3,470.5 C831.4,474.3 828.9,478.1 825.8,480.6 C822.6,483.1 819.0,484.6 814.4,485.6 C809.8,486.7 802.4,486.4 798.0,486.9 C793.6,487.4 790.6,487.8 787.9,488.8 C785.2,489.9 782.8,491.8 781.6,493.2 C780.4,494.6 780.7,496.4 780.5,497.0" fill="none" stroke="#df9099" stroke-width="4.8" stroke-linecap="round"/>
<path d="M805.6,440.6 C807.3,439.3 812.3,434.2 815.7,432.6 C819.1,431.0 822.9,430.5 825.8,430.7 C828.7,430.9 831.4,431.5 833.3,433.9 C835.2,436.3 836.5,441.2 837.1,445.2 C837.7,449.2 837.7,453.7 837.1,457.9 C836.5,462.1 835.2,466.7 833.3,470.5 C831.4,474.3 828.9,478.1 825.8,480.6 C822.6,483.1 819.0,484.6 814.4,485.6 C809.8,486.7 802.4,486.4 798.0,486.9 C793.6,487.4 790.6,487.8 787.9,488.8 C785.2,489.9 782.8,491.8 781.6,493.2 C780.4,494.6 780.7,496.4 780.5,497.0" fill="none" stroke="#f3abb2" stroke-width="3.4" stroke-linecap="round"/>
<path d="M802.0,493.0 C803.0,493.0 804.8,495.6 805.0,497.0 C805.2,498.4 804.5,500.4 803.0,501.5 C801.5,502.6 798.3,502.8 796.0,503.5 C793.7,504.2 790.7,505.4 789.0,505.5 C787.3,505.6 786.2,504.8 786.0,504.0 C785.8,503.2 786.7,501.8 788.0,501.0 C789.3,500.2 792.2,500.2 794.0,499.5 C795.8,498.8 797.7,498.1 799.0,497.0 C800.3,495.9 801.0,493.0 802.0,493.0 Z" fill="#f2aab0" stroke="#d98f97" stroke-width="0.5"/>
<rect x="845" y="497.8" width="16" height="7.5" rx="3.7" fill="none" stroke="#e6e6e6" stroke-width="0.9"/></g>
<g transform="translate(779.5,439.6) rotate(-38.1)">
<line x1="0" y1="0" x2="21" y2="0" stroke="#7f9b9b" stroke-width="0.9"/>
<path d="M19,-1.4 L28,-2.6 L28,2.6 L19,1.4 Z" fill="#3f9a8a"/>
<rect x="28" y="-4.7" width="19" height="9.4" rx="0.8" fill="#cfe5f2" stroke="#9bb7c6" stroke-width="0.7"/>
<rect x="47" y="-4.7" width="24" height="9.4" fill="#f2f5f5" stroke="#b3bdbd" stroke-width="0.7"/>
<rect x="44.5" y="-4.3" width="4.2" height="8.6" fill="#5a5a5a"/>
<rect x="46" y="-4.3" width="1.2" height="8.6" fill="#9a9a9a"/>
<rect x="49" y="-1.8" width="38" height="3.6" fill="#e9eeee" stroke="#b3bdbd" stroke-width="0.5"/>
<rect x="70" y="-9" width="4" height="18" rx="1.6" fill="#eef2f2" stroke="#a9b3b3" stroke-width="0.7"/>
<path d="M86,-1.8 L92,-3.2 L96,-3.2 L96,3.2 L92,3.2 L86,1.8 Z" fill="#edf1f1" stroke="#b3bdbd" stroke-width="0.5"/>
<ellipse cx="97.5" cy="0" rx="2.4" ry="5.6" fill="#eef2f2" stroke="#a9b3b3" stroke-width="0.7"/>
</g>
<text x="732.8" y="384.3" font-size="18" font-weight="bold" fill="#d10000" textLength="55.7" lengthAdjust="spacingAndGlyphs">PDC-2</text>
<line x1="792" y1="380" x2="803.5" y2="392" stroke="#000" stroke-width="1.3"/>
<path d="M808,396.8 L799.5,392.8 L804.2,388.2 Z" fill="#000"/></g>
</svg></body></html>
